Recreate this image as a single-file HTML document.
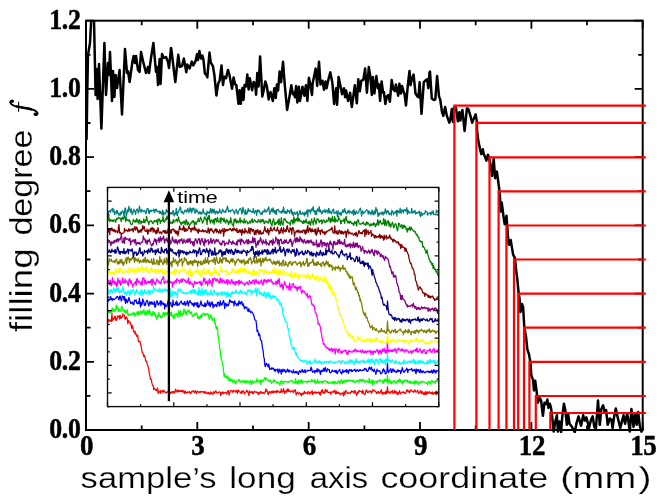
<!DOCTYPE html>
<html><head><meta charset="utf-8"><title>filling degree</title>
<style>
html,body{margin:0;padding:0;background:#fff;}
body{width:664px;height:500px;overflow:hidden;font-family:"Liberation Sans",sans-serif;}
svg{display:block;will-change:transform;}
text{fill:#000;}
.thin text,text.thin{stroke:#fff;stroke-width:0.25px;paint-order:fill stroke;}
</style></head><body>
<svg width="664" height="500" viewBox="0 0 664 500">
<rect width="664" height="500" fill="#fff"/>
<!-- inset -->
<g fill="none" stroke-width="1.25" stroke-linejoin="round">
<path d="M107.5,322.0 L108.0,322.1 L108.6,319.7 L109.1,319.8 L109.7,321.2 L110.2,320.7 L110.8,319.9 L111.3,321.6 L111.9,313.2 L112.4,320.7 L113.0,318.5 L113.5,319.2 L114.1,318.6 L114.6,316.9 L115.2,316.1 L115.7,320.4 L116.3,318.6 L116.8,320.2 L117.4,316.1 L117.9,316.2 L118.5,316.8 L119.0,315.9 L119.6,319.0 L120.1,315.4 L120.7,318.2 L121.2,318.4 L121.8,316.7 L122.3,317.0 L122.9,313.9 L123.4,315.1 L124.0,315.0 L124.5,315.6 L125.1,319.3 L125.6,317.7 L126.2,318.0 L126.7,316.9 L127.3,319.4 L127.8,323.8 L128.4,320.5 L128.9,321.9 L129.5,322.2 L130.0,321.9 L130.6,324.1 L131.1,324.4 L131.7,328.3 L132.2,325.4 L132.8,326.8 L133.3,330.3 L133.9,331.6 L134.5,333.0 L135.0,331.1 L135.6,334.4 L136.1,333.7 L136.7,336.4 L137.2,335.7 L137.8,335.3 L138.3,341.3 L138.9,341.1 L139.4,341.8 L140.0,341.3 L140.5,343.9 L141.1,345.8 L141.6,349.4 L142.2,352.3 L142.7,352.4 L143.3,354.5 L143.8,356.6 L144.4,355.3 L144.9,356.9 L145.5,359.9 L146.0,361.5 L146.6,361.1 L147.1,363.7 L147.7,365.4 L148.2,367.0 L148.8,369.4 L149.3,373.5 L149.9,375.6 L150.4,379.3 L151.0,379.0 L151.5,380.8 L152.1,383.9 L152.6,385.4 L153.2,385.6 L153.7,389.7 L154.3,388.2 L154.8,388.9 L155.4,389.0 L155.9,390.6 L156.5,390.6 L157.0,389.6 L157.6,388.0 L158.1,393.5 L158.7,391.2 L159.2,391.4 L159.8,392.1 L160.3,393.3 L160.9,390.5 L161.4,391.6 L162.0,391.2 L162.5,392.1 L163.1,390.0 L163.6,391.9 L164.2,391.0 L164.7,391.0 L165.3,392.7 L165.8,392.5 L166.4,392.8 L166.9,392.5 L167.5,391.7 L168.0,391.6 L168.6,391.3 L169.1,395.3 L169.7,392.9 L170.2,393.5 L170.8,391.9 L171.3,392.4 L171.9,393.1 L172.4,391.5 L173.0,391.5 L173.5,392.9 L174.1,391.5 L174.6,392.9 L175.2,391.3 L175.7,389.2 L176.3,391.2 L176.8,391.8 L177.4,391.9 L177.9,390.0 L178.5,391.9 L179.0,390.3 L179.6,391.4 L180.1,390.9 L180.7,391.4 L181.2,390.3 L181.8,391.6 L182.3,390.3 L182.9,392.2 L183.4,391.5 L184.0,390.7 L184.5,393.4 L185.1,391.5 L185.6,391.8 L186.2,393.4 L186.7,392.4 L187.3,392.4 L187.8,391.9 L188.4,392.3 L188.9,392.3 L189.5,391.4 L190.0,393.1 L190.6,393.7 L191.1,392.9 L191.7,391.3 L192.2,391.8 L192.8,390.8 L193.3,390.9 L193.9,391.9 L194.4,392.8 L195.0,391.8 L195.5,390.5 L196.1,392.6 L196.6,393.5 L197.2,391.4 L197.7,391.3 L198.3,391.7 L198.8,392.3 L199.4,392.5 L199.9,391.7 L200.5,392.3 L201.0,391.5 L201.6,391.3 L202.1,391.5 L202.7,392.2 L203.2,392.3 L203.8,391.7 L204.3,393.0 L204.9,391.5 L205.4,393.1 L206.0,392.1 L206.5,392.5 L207.1,393.6 L207.6,393.0 L208.2,393.6 L208.7,392.4 L209.3,393.9 L209.8,394.4 L210.4,392.9 L210.9,391.9 L211.5,392.3 L212.0,394.2 L212.6,394.1 L213.1,393.3 L213.7,391.6 L214.2,393.5 L214.8,392.5 L215.3,391.7 L215.9,390.7 L216.4,392.6 L217.0,392.9 L217.5,392.8 L218.1,393.0 L218.6,392.2 L219.2,391.8 L219.7,391.9 L220.3,392.8 L220.8,395.7 L221.4,392.4 L221.9,393.7 L222.5,392.5 L223.0,391.8 L223.6,393.6 L224.1,392.8 L224.7,392.8 L225.2,392.3 L225.8,392.9 L226.3,392.9 L226.9,394.2 L227.4,391.8 L228.0,390.9 L228.5,390.7 L229.1,395.2 L229.6,392.4 L230.2,392.0 L230.7,390.8 L231.3,390.6 L231.8,390.5 L232.4,391.5 L232.9,392.5 L233.5,390.5 L234.0,391.0 L234.6,390.8 L235.1,391.2 L235.7,392.0 L236.2,390.5 L236.8,390.3 L237.3,393.5 L237.9,391.9 L238.4,390.0 L239.0,391.1 L239.5,391.6 L240.1,392.2 L240.6,392.4 L241.2,393.7 L241.7,391.1 L242.3,392.7 L242.8,390.9 L243.4,390.8 L243.9,391.9 L244.5,394.0 L245.0,392.8 L245.6,392.3 L246.1,391.6 L246.7,390.5 L247.2,390.7 L247.8,392.3 L248.3,393.2 L248.9,395.7 L249.4,390.8 L250.0,392.5 L250.5,392.1 L251.1,392.9 L251.6,391.6 L252.2,391.7 L252.7,393.4 L253.3,393.8 L253.8,392.0 L254.4,391.2 L254.9,392.0 L255.5,392.1 L256.0,391.9 L256.6,392.7 L257.1,392.2 L257.7,392.1 L258.2,394.1 L258.8,394.3 L259.3,392.3 L259.9,393.4 L260.4,391.6 L261.0,391.7 L261.5,392.9 L262.1,392.7 L262.6,393.3 L263.2,392.3 L263.7,392.9 L264.3,393.6 L264.8,393.2 L265.4,391.0 L265.9,388.9 L266.5,391.4 L267.0,390.3 L267.6,392.6 L268.1,394.7 L268.7,393.2 L269.2,391.6 L269.8,392.7 L270.3,391.8 L270.9,393.4 L271.4,391.3 L272.0,392.0 L272.5,392.7 L273.1,390.8 L273.6,392.6 L274.2,391.4 L274.7,392.2 L275.3,391.9 L275.8,391.2 L276.4,392.7 L276.9,390.4 L277.5,391.8 L278.0,391.1 L278.6,391.6 L279.1,392.3 L279.7,392.4 L280.2,391.7 L280.8,392.4 L281.3,388.9 L281.9,392.1 L282.4,391.9 L283.0,391.6 L283.5,388.7 L284.1,391.5 L284.6,393.5 L285.2,390.9 L285.7,391.5 L286.3,392.2 L286.8,390.5 L287.4,389.0 L287.9,391.4 L288.5,389.1 L289.0,391.4 L289.6,390.7 L290.1,391.2 L290.7,392.1 L291.2,391.4 L291.8,391.0 L292.3,390.5 L292.9,390.9 L293.4,392.5 L294.0,391.8 L294.5,390.3 L295.1,389.7 L295.6,391.6 L296.2,394.8 L296.7,393.7 L297.3,392.4 L297.8,392.1 L298.4,393.9 L298.9,393.5 L299.5,392.8 L300.0,393.2 L300.6,394.6 L301.1,393.7 L301.7,395.7 L302.2,393.2 L302.8,393.6 L303.3,394.2 L303.9,392.6 L304.4,391.3 L305.0,393.5 L305.5,392.3 L306.1,393.2 L306.6,393.2 L307.2,392.9 L307.7,394.1 L308.3,391.5 L308.8,392.1 L309.4,393.1 L309.9,394.2 L310.5,392.9 L311.0,391.8 L311.6,392.8 L312.1,390.6 L312.7,394.3 L313.2,392.7 L313.8,393.3 L314.3,391.9 L314.9,392.2 L315.4,392.8 L316.0,391.8 L316.5,393.3 L317.1,392.5 L317.6,392.5 L318.2,392.3 L318.7,392.1 L319.3,394.1 L319.8,392.1 L320.4,395.1 L320.9,392.4 L321.5,390.4 L322.0,392.1 L322.6,389.7 L323.1,392.8 L323.7,392.5 L324.2,393.4 L324.8,392.0 L325.3,389.5 L325.9,391.9 L326.4,391.9 L327.0,389.9 L327.5,391.3 L328.1,392.8 L328.6,392.7 L329.2,392.4 L329.7,392.2 L330.3,392.1 L330.8,394.3 L331.4,391.9 L331.9,392.3 L332.5,392.2 L333.0,391.2 L333.6,392.1 L334.1,391.1 L334.7,390.2 L335.2,393.5 L335.8,393.9 L336.3,391.1 L336.9,393.5 L337.4,392.5 L338.0,393.1 L338.5,392.1 L339.1,393.6 L339.6,393.1 L340.2,394.9 L340.7,394.1 L341.3,393.8 L341.8,393.3 L342.4,392.8 L342.9,394.1 L343.5,395.8 L344.0,391.7 L344.6,394.5 L345.1,393.6 L345.7,390.3 L346.2,392.0 L346.8,392.2 L347.3,393.0 L347.9,393.6 L348.4,392.9 L349.0,392.8 L349.5,393.0 L350.1,393.5 L350.6,392.2 L351.2,392.3 L351.7,390.8 L352.3,391.7 L352.8,391.9 L353.4,391.2 L353.9,393.1 L354.5,392.1 L355.0,390.3 L355.6,393.2 L356.1,393.0 L356.7,395.7 L357.2,393.7 L357.8,391.8 L358.3,393.2 L358.9,390.8 L359.4,390.5 L360.0,391.5 L360.5,391.4 L361.1,391.4 L361.6,391.8 L362.2,393.5 L362.7,390.2 L363.3,392.0 L363.8,393.9 L364.4,394.2 L364.9,394.6 L365.5,393.0 L366.0,390.3 L366.6,390.0 L367.1,391.6 L367.7,392.7 L368.2,391.9 L368.8,392.2 L369.3,391.0 L369.9,391.6 L370.4,391.6 L371.0,391.1 L371.5,393.3 L372.1,392.0 L372.6,389.8 L373.2,390.5 L373.7,390.1 L374.3,390.6 L374.8,391.0 L375.4,391.5 L375.9,391.6 L376.5,393.5 L377.0,392.4 L377.6,392.9 L378.1,391.4 L378.7,392.0 L379.2,393.5 L379.8,392.5 L380.3,392.5 L380.9,390.7 L381.4,389.9 L382.0,393.8 L382.5,394.2 L383.1,392.4 L383.6,393.5 L384.2,392.2 L384.7,393.2 L385.3,394.1 L385.8,391.2 L386.4,393.6 L386.9,392.0 L387.5,386.7 L388.0,393.0 L388.6,391.8 L389.1,391.9 L389.7,392.3 L390.2,393.7 L390.8,391.6 L391.3,392.1 L391.9,391.5 L392.4,390.5 L393.0,393.7 L393.5,392.7 L394.1,391.9 L394.6,390.5 L395.2,393.3 L395.7,391.4 L396.3,391.7 L396.8,393.9 L397.4,394.3 L397.9,392.6 L398.5,394.1 L399.0,391.7 L399.6,390.7 L400.1,393.2 L400.7,393.8 L401.2,393.1 L401.8,392.1 L402.3,392.4 L402.9,392.3 L403.4,391.7 L404.0,392.8 L404.5,392.7 L405.1,393.7 L405.6,393.0 L406.2,391.7 L406.7,390.3 L407.3,389.8 L407.8,391.5 L408.4,391.8 L408.9,390.7 L409.5,392.8 L410.0,391.6 L410.6,389.9 L411.1,390.2 L411.7,390.9 L412.2,391.5 L412.8,391.4 L413.3,392.0 L413.9,392.3 L414.4,390.4 L415.0,389.9 L415.5,391.5 L416.1,392.2 L416.6,391.9 L417.2,391.9 L417.7,390.2 L418.3,392.3 L418.8,393.5 L419.4,392.9 L419.9,392.4 L420.5,390.5 L421.0,392.0 L421.6,393.8 L422.1,391.7 L422.7,392.2 L423.2,393.3 L423.8,394.9 L424.3,392.9 L424.9,394.4 L425.4,391.6 L426.0,394.4 L426.5,394.0 L427.1,391.7 L427.6,393.6 L428.2,392.4 L428.7,393.2 L429.3,391.6 L429.8,392.1 L430.4,393.2 L430.9,393.7 L431.5,392.4 L432.0,393.6 L432.6,391.9 L433.1,394.4 L433.7,393.5 L434.2,392.9 L434.8,392.5 L435.3,393.8 L435.9,391.2 L436.4,394.6 L437.0,391.4 L437.5,393.2 L438.1,393.7 L438.6,393.9" stroke="#ff0000"/>
<path d="M107.5,309.9 L108.0,311.9 L108.6,310.8 L109.1,313.1 L109.7,312.0 L110.2,310.6 L110.8,312.4 L111.3,314.1 L111.9,309.5 L112.4,308.0 L113.0,311.6 L113.5,309.6 L114.1,310.1 L114.6,311.1 L115.2,309.3 L115.7,310.6 L116.3,305.1 L116.8,306.0 L117.4,309.3 L117.9,307.4 L118.5,311.7 L119.0,309.1 L119.6,310.1 L120.1,310.9 L120.7,310.8 L121.2,308.4 L121.8,306.4 L122.3,307.9 L122.9,310.7 L123.4,310.6 L124.0,310.3 L124.5,312.4 L125.1,310.1 L125.6,311.4 L126.2,313.6 L126.7,312.2 L127.3,309.7 L127.8,314.1 L128.4,315.7 L128.9,314.2 L129.5,314.9 L130.0,314.8 L130.6,314.7 L131.1,313.9 L131.7,314.6 L132.2,313.9 L132.8,314.1 L133.3,312.3 L133.9,313.0 L134.5,316.0 L135.0,313.2 L135.6,314.7 L136.1,314.5 L136.7,313.3 L137.2,311.6 L137.8,314.2 L138.3,315.0 L138.9,311.2 L139.4,315.0 L140.0,312.4 L140.5,311.9 L141.1,310.9 L141.6,314.7 L142.2,311.0 L142.7,311.8 L143.3,312.5 L143.8,309.7 L144.4,314.4 L144.9,311.3 L145.5,312.1 L146.0,315.3 L146.6,314.0 L147.1,310.6 L147.7,311.2 L148.2,313.9 L148.8,311.6 L149.3,309.6 L149.9,313.3 L150.4,311.8 L151.0,315.5 L151.5,314.4 L152.1,315.8 L152.6,313.3 L153.2,311.3 L153.7,313.1 L154.3,315.1 L154.8,312.6 L155.4,314.8 L155.9,317.1 L156.5,318.5 L157.0,319.6 L157.6,315.0 L158.1,316.5 L158.7,312.6 L159.2,315.8 L159.8,315.3 L160.3,317.6 L160.9,315.6 L161.4,317.8 L162.0,317.0 L162.5,316.9 L163.1,312.5 L163.6,314.5 L164.2,312.7 L164.7,315.9 L165.3,312.8 L165.8,314.0 L166.4,314.7 L166.9,312.4 L167.5,312.6 L168.0,314.4 L168.6,316.4 L169.1,313.9 L169.7,313.0 L170.2,315.3 L170.8,312.9 L171.3,312.1 L171.9,316.4 L172.4,315.1 L173.0,315.9 L173.5,318.7 L174.1,318.6 L174.6,314.6 L175.2,314.7 L175.7,314.5 L176.3,313.4 L176.8,314.6 L177.4,315.8 L177.9,317.3 L178.5,312.5 L179.0,310.5 L179.6,314.3 L180.1,316.4 L180.7,310.8 L181.2,314.7 L181.8,313.9 L182.3,315.5 L182.9,312.9 L183.4,313.7 L184.0,308.9 L184.5,311.9 L185.1,311.2 L185.6,313.7 L186.2,312.3 L186.7,314.7 L187.3,310.7 L187.8,311.4 L188.4,311.8 L188.9,309.9 L189.5,311.4 L190.0,313.5 L190.6,313.6 L191.1,311.8 L191.7,312.8 L192.2,315.8 L192.8,315.3 L193.3,316.7 L193.9,315.8 L194.4,313.9 L195.0,313.7 L195.5,315.1 L196.1,313.6 L196.6,312.8 L197.2,314.5 L197.7,317.7 L198.3,318.6 L198.8,316.7 L199.4,318.5 L199.9,316.5 L200.5,317.9 L201.0,314.8 L201.6,317.5 L202.1,314.5 L202.7,314.6 L203.2,313.1 L203.8,314.2 L204.3,313.5 L204.9,315.2 L205.4,315.6 L206.0,314.3 L206.5,313.6 L207.1,313.7 L207.6,314.4 L208.2,314.2 L208.7,316.6 L209.3,319.3 L209.8,316.8 L210.4,317.0 L210.9,314.7 L211.5,318.7 L212.0,318.2 L212.6,320.5 L213.1,319.1 L213.7,318.8 L214.2,318.1 L214.8,323.4 L215.3,322.9 L215.9,327.0 L216.4,329.2 L217.0,326.7 L217.5,328.0 L218.1,335.8 L218.6,339.5 L219.2,343.8 L219.7,348.4 L220.3,350.4 L220.8,357.5 L221.4,358.9 L221.9,360.8 L222.5,363.9 L223.0,366.2 L223.6,370.9 L224.1,376.5 L224.7,374.0 L225.2,376.7 L225.8,377.2 L226.3,378.0 L226.9,375.8 L227.4,375.9 L228.0,379.2 L228.5,377.3 L229.1,381.2 L229.6,380.4 L230.2,378.7 L230.7,381.2 L231.3,379.7 L231.8,380.1 L232.4,379.8 L232.9,382.5 L233.5,382.3 L234.0,380.8 L234.6,380.2 L235.1,382.2 L235.7,383.9 L236.2,382.6 L236.8,381.1 L237.3,381.3 L237.9,380.7 L238.4,379.4 L239.0,379.6 L239.5,380.9 L240.1,382.5 L240.6,381.5 L241.2,380.9 L241.7,381.8 L242.3,382.0 L242.8,380.5 L243.4,381.6 L243.9,380.8 L244.5,382.5 L245.0,380.7 L245.6,381.7 L246.1,382.2 L246.7,380.6 L247.2,382.5 L247.8,381.9 L248.3,381.9 L248.9,382.9 L249.4,382.7 L250.0,380.9 L250.5,380.4 L251.1,384.9 L251.6,382.8 L252.2,381.0 L252.7,381.2 L253.3,383.5 L253.8,381.3 L254.4,381.6 L254.9,382.0 L255.5,382.0 L256.0,381.8 L256.6,378.9 L257.1,381.9 L257.7,380.6 L258.2,380.6 L258.8,381.2 L259.3,382.7 L259.9,380.8 L260.4,380.0 L261.0,384.4 L261.5,379.9 L262.1,380.7 L262.6,381.8 L263.2,381.0 L263.7,380.4 L264.3,377.9 L264.8,377.9 L265.4,380.2 L265.9,377.9 L266.5,378.5 L267.0,379.2 L267.6,380.3 L268.1,381.1 L268.7,380.7 L269.2,381.8 L269.8,380.5 L270.3,380.0 L270.9,381.2 L271.4,383.5 L272.0,382.0 L272.5,382.1 L273.1,382.1 L273.6,379.8 L274.2,381.6 L274.7,380.1 L275.3,381.2 L275.8,381.7 L276.4,382.8 L276.9,383.3 L277.5,382.1 L278.0,382.2 L278.6,382.1 L279.1,382.6 L279.7,385.2 L280.2,384.0 L280.8,381.3 L281.3,380.7 L281.9,381.2 L282.4,382.1 L283.0,384.1 L283.5,381.7 L284.1,381.8 L284.6,381.2 L285.2,381.7 L285.7,381.5 L286.3,381.6 L286.8,381.7 L287.4,382.2 L287.9,382.9 L288.5,381.4 L289.0,381.5 L289.6,381.7 L290.1,381.2 L290.7,380.9 L291.2,381.1 L291.8,380.7 L292.3,380.8 L292.9,382.2 L293.4,382.7 L294.0,382.3 L294.5,381.9 L295.1,383.5 L295.6,378.7 L296.2,382.9 L296.7,381.6 L297.3,382.9 L297.8,384.2 L298.4,380.3 L298.9,382.9 L299.5,380.7 L300.0,382.2 L300.6,382.8 L301.1,379.7 L301.7,380.0 L302.2,382.7 L302.8,382.9 L303.3,381.2 L303.9,381.2 L304.4,381.3 L305.0,381.6 L305.5,381.8 L306.1,381.9 L306.6,381.5 L307.2,382.9 L307.7,381.7 L308.3,381.2 L308.8,380.8 L309.4,381.9 L309.9,381.7 L310.5,381.4 L311.0,382.1 L311.6,379.7 L312.1,380.1 L312.7,381.4 L313.2,380.9 L313.8,380.6 L314.3,382.3 L314.9,379.6 L315.4,383.1 L316.0,381.9 L316.5,382.7 L317.1,382.6 L317.6,379.4 L318.2,382.7 L318.7,382.2 L319.3,381.7 L319.8,382.8 L320.4,381.3 L320.9,381.4 L321.5,382.1 L322.0,381.7 L322.6,383.1 L323.1,381.1 L323.7,381.7 L324.2,381.4 L324.8,381.2 L325.3,380.8 L325.9,381.0 L326.4,381.1 L327.0,382.6 L327.5,381.7 L328.1,383.1 L328.6,383.2 L329.2,382.1 L329.7,383.4 L330.3,382.8 L330.8,382.8 L331.4,382.2 L331.9,383.2 L332.5,383.3 L333.0,381.2 L333.6,382.8 L334.1,384.2 L334.7,381.7 L335.2,381.5 L335.8,382.5 L336.3,383.7 L336.9,383.5 L337.4,382.5 L338.0,380.9 L338.5,381.5 L339.1,381.4 L339.6,383.8 L340.2,382.9 L340.7,381.0 L341.3,379.9 L341.8,382.1 L342.4,383.5 L342.9,381.3 L343.5,380.4 L344.0,382.7 L344.6,382.1 L345.1,380.2 L345.7,381.3 L346.2,380.0 L346.8,381.7 L347.3,380.7 L347.9,381.4 L348.4,379.8 L349.0,380.0 L349.5,380.6 L350.1,380.3 L350.6,380.5 L351.2,381.0 L351.7,380.3 L352.3,380.4 L352.8,381.8 L353.4,380.1 L353.9,381.1 L354.5,382.1 L355.0,382.4 L355.6,382.2 L356.1,380.7 L356.7,381.7 L357.2,380.8 L357.8,381.3 L358.3,380.9 L358.9,382.6 L359.4,380.0 L360.0,379.3 L360.5,380.4 L361.1,379.7 L361.6,381.8 L362.2,380.2 L362.7,379.4 L363.3,379.3 L363.8,381.4 L364.4,382.2 L364.9,380.7 L365.5,381.9 L366.0,381.0 L366.6,381.5 L367.1,382.0 L367.7,380.7 L368.2,381.2 L368.8,382.8 L369.3,378.4 L369.9,381.7 L370.4,382.4 L371.0,382.0 L371.5,382.4 L372.1,379.6 L372.6,385.2 L373.2,380.7 L373.7,382.8 L374.3,383.0 L374.8,382.0 L375.4,381.5 L375.9,381.1 L376.5,381.6 L377.0,383.4 L377.6,380.9 L378.1,381.1 L378.7,381.6 L379.2,381.1 L379.8,379.4 L380.3,381.0 L380.9,381.6 L381.4,381.6 L382.0,381.3 L382.5,380.4 L383.1,383.4 L383.6,383.2 L384.2,379.6 L384.7,381.6 L385.3,379.0 L385.8,379.7 L386.4,381.3 L386.9,381.9 L387.5,375.1 L388.0,383.7 L388.6,379.5 L389.1,379.6 L389.7,381.4 L390.2,382.8 L390.8,380.9 L391.3,383.8 L391.9,381.9 L392.4,382.4 L393.0,382.6 L393.5,381.5 L394.1,380.4 L394.6,381.1 L395.2,382.9 L395.7,383.1 L396.3,381.9 L396.8,383.0 L397.4,380.9 L397.9,380.2 L398.5,381.8 L399.0,381.6 L399.6,379.0 L400.1,381.5 L400.7,379.9 L401.2,382.3 L401.8,381.9 L402.3,383.8 L402.9,380.8 L403.4,381.2 L404.0,382.3 L404.5,380.4 L405.1,380.5 L405.6,380.7 L406.2,379.8 L406.7,381.1 L407.3,380.2 L407.8,382.6 L408.4,381.4 L408.9,382.0 L409.5,381.1 L410.0,383.4 L410.6,381.3 L411.1,383.0 L411.7,381.9 L412.2,382.9 L412.8,382.0 L413.3,383.3 L413.9,384.0 L414.4,380.9 L415.0,383.8 L415.5,382.7 L416.1,380.8 L416.6,382.9 L417.2,382.9 L417.7,381.4 L418.3,384.0 L418.8,384.0 L419.4,382.7 L419.9,382.3 L420.5,381.4 L421.0,383.1 L421.6,381.8 L422.1,381.5 L422.7,381.9 L423.2,381.3 L423.8,382.0 L424.3,382.2 L424.9,382.2 L425.4,382.6 L426.0,383.2 L426.5,382.7 L427.1,383.0 L427.6,384.9 L428.2,382.3 L428.7,381.3 L429.3,382.2 L429.8,382.9 L430.4,384.0 L430.9,381.8 L431.5,380.6 L432.0,381.2 L432.6,380.8 L433.1,382.6 L433.7,382.2 L434.2,381.7 L434.8,381.8 L435.3,383.3 L435.9,380.3 L436.4,381.3 L437.0,380.9 L437.5,381.8 L438.1,381.0 L438.6,379.6" stroke="#00ff00"/>
<path d="M107.5,300.0 L108.0,301.8 L108.6,299.2 L109.1,299.6 L109.7,300.1 L110.2,298.8 L110.8,296.6 L111.3,299.7 L111.9,298.8 L112.4,300.4 L113.0,298.6 L113.5,299.5 L114.1,299.5 L114.6,299.2 L115.2,298.6 L115.7,298.3 L116.3,297.6 L116.8,296.7 L117.4,296.5 L117.9,296.9 L118.5,299.0 L119.0,299.9 L119.6,296.6 L120.1,296.0 L120.7,298.1 L121.2,301.0 L121.8,299.6 L122.3,295.8 L122.9,296.6 L123.4,296.5 L124.0,300.0 L124.5,296.6 L125.1,300.9 L125.6,303.3 L126.2,299.1 L126.7,299.8 L127.3,302.7 L127.8,301.6 L128.4,299.9 L128.9,297.3 L129.5,299.7 L130.0,301.1 L130.6,303.7 L131.1,303.1 L131.7,303.2 L132.2,301.8 L132.8,303.8 L133.3,304.8 L133.9,304.4 L134.5,300.1 L135.0,301.0 L135.6,300.5 L136.1,299.8 L136.7,303.1 L137.2,303.3 L137.8,303.8 L138.3,302.0 L138.9,303.4 L139.4,298.2 L140.0,303.2 L140.5,307.1 L141.1,302.5 L141.6,305.1 L142.2,304.0 L142.7,299.0 L143.3,300.4 L143.8,301.9 L144.4,305.5 L144.9,304.0 L145.5,305.2 L146.0,302.0 L146.6,301.1 L147.1,300.2 L147.7,301.8 L148.2,304.0 L148.8,306.0 L149.3,303.8 L149.9,301.6 L150.4,302.4 L151.0,304.5 L151.5,302.0 L152.1,302.2 L152.6,304.2 L153.2,303.8 L153.7,304.4 L154.3,301.5 L154.8,306.9 L155.4,307.1 L155.9,304.6 L156.5,302.1 L157.0,300.7 L157.6,302.2 L158.1,304.9 L158.7,304.9 L159.2,303.2 L159.8,303.4 L160.3,300.9 L160.9,305.6 L161.4,301.0 L162.0,302.5 L162.5,304.2 L163.1,302.9 L163.6,304.7 L164.2,303.7 L164.7,308.9 L165.3,304.0 L165.8,306.0 L166.4,305.7 L166.9,306.6 L167.5,303.2 L168.0,300.8 L168.6,304.6 L169.1,304.8 L169.7,304.0 L170.2,302.4 L170.8,303.0 L171.3,305.7 L171.9,306.6 L172.4,306.8 L173.0,300.0 L173.5,304.3 L174.1,305.3 L174.6,304.8 L175.2,304.0 L175.7,302.1 L176.3,304.7 L176.8,301.0 L177.4,305.6 L177.9,303.4 L178.5,304.8 L179.0,304.9 L179.6,304.2 L180.1,302.3 L180.7,302.1 L181.2,301.0 L181.8,302.7 L182.3,304.1 L182.9,303.7 L183.4,303.4 L184.0,304.9 L184.5,301.7 L185.1,302.3 L185.6,305.4 L186.2,304.0 L186.7,303.7 L187.3,300.8 L187.8,302.2 L188.4,306.0 L188.9,302.8 L189.5,301.7 L190.0,300.4 L190.6,302.6 L191.1,302.5 L191.7,303.4 L192.2,305.2 L192.8,303.3 L193.3,303.5 L193.9,306.5 L194.4,305.2 L195.0,302.5 L195.5,303.3 L196.1,304.8 L196.6,303.1 L197.2,306.6 L197.7,302.4 L198.3,307.4 L198.8,305.8 L199.4,306.7 L199.9,305.1 L200.5,302.9 L201.0,300.8 L201.6,304.6 L202.1,305.7 L202.7,305.0 L203.2,305.1 L203.8,306.4 L204.3,306.5 L204.9,302.9 L205.4,306.6 L206.0,304.2 L206.5,305.5 L207.1,303.4 L207.6,300.7 L208.2,303.0 L208.7,304.4 L209.3,305.6 L209.8,302.1 L210.4,306.6 L210.9,303.8 L211.5,304.2 L212.0,301.6 L212.6,303.7 L213.1,307.8 L213.7,304.7 L214.2,306.3 L214.8,305.1 L215.3,304.9 L215.9,304.6 L216.4,306.7 L217.0,306.0 L217.5,302.3 L218.1,302.6 L218.6,302.4 L219.2,306.2 L219.7,304.4 L220.3,300.9 L220.8,305.2 L221.4,303.5 L221.9,305.1 L222.5,303.3 L223.0,301.6 L223.6,300.5 L224.1,303.1 L224.7,308.4 L225.2,303.9 L225.8,303.3 L226.3,304.4 L226.9,306.4 L227.4,304.1 L228.0,305.1 L228.5,305.5 L229.1,303.1 L229.6,299.8 L230.2,301.9 L230.7,300.6 L231.3,302.3 L231.8,302.1 L232.4,301.6 L232.9,302.6 L233.5,301.9 L234.0,306.0 L234.6,300.9 L235.1,302.4 L235.7,304.0 L236.2,303.8 L236.8,305.8 L237.3,304.5 L237.9,303.2 L238.4,305.4 L239.0,300.8 L239.5,303.6 L240.1,302.1 L240.6,304.0 L241.2,302.9 L241.7,301.5 L242.3,304.4 L242.8,305.6 L243.4,303.8 L243.9,306.5 L244.5,308.9 L245.0,307.3 L245.6,306.9 L246.1,307.9 L246.7,307.1 L247.2,309.2 L247.8,310.9 L248.3,311.6 L248.9,308.5 L249.4,311.0 L250.0,310.7 L250.5,312.7 L251.1,311.8 L251.6,311.8 L252.2,312.1 L252.7,313.7 L253.3,314.0 L253.8,315.2 L254.4,318.3 L254.9,319.9 L255.5,320.2 L256.0,320.5 L256.6,325.9 L257.1,331.4 L257.7,330.0 L258.2,332.6 L258.8,335.7 L259.3,333.8 L259.9,335.8 L260.4,339.7 L261.0,340.2 L261.5,340.6 L262.1,344.9 L262.6,348.8 L263.2,351.2 L263.7,356.9 L264.3,358.6 L264.8,365.3 L265.4,366.7 L265.9,364.3 L266.5,363.3 L267.0,364.2 L267.6,365.8 L268.1,366.9 L268.7,364.2 L269.2,366.3 L269.8,369.5 L270.3,368.9 L270.9,369.2 L271.4,367.8 L272.0,369.2 L272.5,368.2 L273.1,368.1 L273.6,368.4 L274.2,370.6 L274.7,369.3 L275.3,371.5 L275.8,369.7 L276.4,369.7 L276.9,370.1 L277.5,369.1 L278.0,372.1 L278.6,372.9 L279.1,369.0 L279.7,370.3 L280.2,371.4 L280.8,369.8 L281.3,374.2 L281.9,369.9 L282.4,371.8 L283.0,369.2 L283.5,370.7 L284.1,371.4 L284.6,369.7 L285.2,370.6 L285.7,372.6 L286.3,371.1 L286.8,371.5 L287.4,369.2 L287.9,369.8 L288.5,371.9 L289.0,370.0 L289.6,371.9 L290.1,370.9 L290.7,371.0 L291.2,371.1 L291.8,372.3 L292.3,372.9 L292.9,372.5 L293.4,369.8 L294.0,372.3 L294.5,372.9 L295.1,372.2 L295.6,371.5 L296.2,372.9 L296.7,371.3 L297.3,372.7 L297.8,373.0 L298.4,374.4 L298.9,371.7 L299.5,370.9 L300.0,370.6 L300.6,372.5 L301.1,371.8 L301.7,371.3 L302.2,369.3 L302.8,371.7 L303.3,372.3 L303.9,370.6 L304.4,371.9 L305.0,369.7 L305.5,372.6 L306.1,371.6 L306.6,371.1 L307.2,370.3 L307.7,371.0 L308.3,370.3 L308.8,370.3 L309.4,370.5 L309.9,370.3 L310.5,370.7 L311.0,367.2 L311.6,368.2 L312.1,371.0 L312.7,372.3 L313.2,371.8 L313.8,370.8 L314.3,370.7 L314.9,373.0 L315.4,370.7 L316.0,370.9 L316.5,371.5 L317.1,368.7 L317.6,371.9 L318.2,371.3 L318.7,369.3 L319.3,370.6 L319.8,371.5 L320.4,374.4 L320.9,370.6 L321.5,371.9 L322.0,370.3 L322.6,371.3 L323.1,370.1 L323.7,368.4 L324.2,371.3 L324.8,369.6 L325.3,367.4 L325.9,370.7 L326.4,371.8 L327.0,371.2 L327.5,368.6 L328.1,369.4 L328.6,369.9 L329.2,369.6 L329.7,372.0 L330.3,372.8 L330.8,372.6 L331.4,372.1 L331.9,370.5 L332.5,370.1 L333.0,371.1 L333.6,371.7 L334.1,371.7 L334.7,370.4 L335.2,370.5 L335.8,372.5 L336.3,370.4 L336.9,373.2 L337.4,373.7 L338.0,371.4 L338.5,370.8 L339.1,370.6 L339.6,369.3 L340.2,371.4 L340.7,372.8 L341.3,372.7 L341.8,373.9 L342.4,371.2 L342.9,369.8 L343.5,372.3 L344.0,372.0 L344.6,371.6 L345.1,370.3 L345.7,370.4 L346.2,372.3 L346.8,369.3 L347.3,371.9 L347.9,370.9 L348.4,373.5 L349.0,370.2 L349.5,369.6 L350.1,370.6 L350.6,370.7 L351.2,369.5 L351.7,371.5 L352.3,371.4 L352.8,370.3 L353.4,370.5 L353.9,370.1 L354.5,369.9 L355.0,369.2 L355.6,371.5 L356.1,371.5 L356.7,370.2 L357.2,369.7 L357.8,370.4 L358.3,371.3 L358.9,371.3 L359.4,369.7 L360.0,370.3 L360.5,369.6 L361.1,370.6 L361.6,370.7 L362.2,370.7 L362.7,370.2 L363.3,369.8 L363.8,370.3 L364.4,368.5 L364.9,369.7 L365.5,368.6 L366.0,368.7 L366.6,370.6 L367.1,371.4 L367.7,370.9 L368.2,370.6 L368.8,368.4 L369.3,367.2 L369.9,367.7 L370.4,369.3 L371.0,368.4 L371.5,367.2 L372.1,370.7 L372.6,369.7 L373.2,371.3 L373.7,370.8 L374.3,369.2 L374.8,371.3 L375.4,371.7 L375.9,374.4 L376.5,371.1 L377.0,369.2 L377.6,371.1 L378.1,370.8 L378.7,370.6 L379.2,371.3 L379.8,370.8 L380.3,372.8 L380.9,374.0 L381.4,373.0 L382.0,373.0 L382.5,371.3 L383.1,369.0 L383.6,368.9 L384.2,371.7 L384.7,370.3 L385.3,373.8 L385.8,373.7 L386.4,373.4 L386.9,371.8 L387.5,363.3 L388.0,371.2 L388.6,372.5 L389.1,371.1 L389.7,370.1 L390.2,370.0 L390.8,368.6 L391.3,372.4 L391.9,372.3 L392.4,369.6 L393.0,368.8 L393.5,370.8 L394.1,371.3 L394.6,370.0 L395.2,371.9 L395.7,371.6 L396.3,372.4 L396.8,371.2 L397.4,371.6 L397.9,369.6 L398.5,371.5 L399.0,370.9 L399.6,370.6 L400.1,370.4 L400.7,373.6 L401.2,372.3 L401.8,369.8 L402.3,367.6 L402.9,370.2 L403.4,371.3 L404.0,372.6 L404.5,371.4 L405.1,370.5 L405.6,370.7 L406.2,369.6 L406.7,368.2 L407.3,369.4 L407.8,372.6 L408.4,369.7 L408.9,369.6 L409.5,369.6 L410.0,369.7 L410.6,369.3 L411.1,369.5 L411.7,368.5 L412.2,371.1 L412.8,371.0 L413.3,369.9 L413.9,370.5 L414.4,370.6 L415.0,369.2 L415.5,372.9 L416.1,373.6 L416.6,369.1 L417.2,370.2 L417.7,371.1 L418.3,369.6 L418.8,370.7 L419.4,372.6 L419.9,370.1 L420.5,369.4 L421.0,372.7 L421.6,370.9 L422.1,371.9 L422.7,372.5 L423.2,370.9 L423.8,371.6 L424.3,372.1 L424.9,372.8 L425.4,372.2 L426.0,371.6 L426.5,371.9 L427.1,371.1 L427.6,371.5 L428.2,372.2 L428.7,371.3 L429.3,372.4 L429.8,371.4 L430.4,372.1 L430.9,372.3 L431.5,370.1 L432.0,372.4 L432.6,373.1 L433.1,370.7 L433.7,369.6 L434.2,372.4 L434.8,370.7 L435.3,371.0 L435.9,373.1 L436.4,370.4 L437.0,370.5 L437.5,370.9 L438.1,371.3 L438.6,370.3" stroke="#0000ff"/>
<path d="M107.5,290.4 L108.0,290.1 L108.6,289.8 L109.1,294.4 L109.7,291.1 L110.2,292.3 L110.8,290.3 L111.3,289.4 L111.9,290.9 L112.4,292.5 L113.0,292.7 L113.5,288.0 L114.1,290.8 L114.6,289.2 L115.2,292.1 L115.7,291.9 L116.3,287.8 L116.8,290.5 L117.4,288.7 L117.9,290.4 L118.5,287.5 L119.0,292.2 L119.6,293.0 L120.1,291.0 L120.7,291.6 L121.2,290.9 L121.8,292.2 L122.3,289.1 L122.9,286.7 L123.4,290.6 L124.0,290.7 L124.5,293.9 L125.1,292.0 L125.6,293.6 L126.2,292.8 L126.7,295.2 L127.3,293.2 L127.8,291.1 L128.4,290.9 L128.9,292.7 L129.5,295.3 L130.0,294.1 L130.6,290.4 L131.1,294.0 L131.7,292.8 L132.2,290.3 L132.8,289.9 L133.3,289.5 L133.9,291.5 L134.5,295.1 L135.0,292.2 L135.6,292.6 L136.1,291.9 L136.7,289.3 L137.2,292.2 L137.8,291.2 L138.3,292.6 L138.9,292.8 L139.4,294.5 L140.0,293.0 L140.5,294.5 L141.1,289.6 L141.6,290.5 L142.2,295.4 L142.7,291.0 L143.3,293.9 L143.8,292.6 L144.4,291.6 L144.9,289.5 L145.5,292.9 L146.0,294.2 L146.6,293.3 L147.1,292.4 L147.7,292.6 L148.2,290.1 L148.8,293.3 L149.3,294.4 L149.9,294.6 L150.4,290.3 L151.0,291.9 L151.5,292.0 L152.1,291.9 L152.6,292.5 L153.2,290.1 L153.7,286.7 L154.3,290.1 L154.8,288.9 L155.4,290.6 L155.9,290.7 L156.5,290.3 L157.0,290.6 L157.6,289.9 L158.1,290.4 L158.7,291.8 L159.2,291.3 L159.8,288.1 L160.3,290.5 L160.9,292.0 L161.4,289.9 L162.0,291.5 L162.5,291.8 L163.1,289.3 L163.6,288.8 L164.2,290.8 L164.7,290.7 L165.3,290.0 L165.8,288.9 L166.4,290.6 L166.9,289.7 L167.5,291.0 L168.0,291.4 L168.6,292.0 L169.1,293.7 L169.7,288.5 L170.2,289.4 L170.8,297.6 L171.3,291.8 L171.9,292.2 L172.4,296.1 L173.0,294.8 L173.5,291.3 L174.1,292.1 L174.6,292.3 L175.2,294.8 L175.7,292.0 L176.3,293.2 L176.8,294.1 L177.4,297.7 L177.9,290.5 L178.5,289.1 L179.0,290.9 L179.6,289.7 L180.1,288.9 L180.7,290.9 L181.2,291.8 L181.8,292.8 L182.3,292.6 L182.9,292.2 L183.4,293.3 L184.0,292.5 L184.5,293.6 L185.1,292.9 L185.6,293.9 L186.2,293.9 L186.7,292.8 L187.3,293.4 L187.8,292.4 L188.4,293.2 L188.9,293.0 L189.5,292.3 L190.0,290.8 L190.6,290.7 L191.1,294.0 L191.7,292.6 L192.2,289.6 L192.8,292.1 L193.3,292.0 L193.9,289.1 L194.4,293.4 L195.0,289.8 L195.5,292.9 L196.1,291.3 L196.6,293.2 L197.2,294.7 L197.7,292.0 L198.3,294.9 L198.8,287.6 L199.4,291.5 L199.9,293.8 L200.5,295.3 L201.0,290.0 L201.6,292.6 L202.1,288.7 L202.7,294.5 L203.2,294.7 L203.8,291.3 L204.3,294.0 L204.9,290.3 L205.4,291.9 L206.0,289.4 L206.5,294.5 L207.1,294.0 L207.6,293.6 L208.2,294.3 L208.7,293.1 L209.3,293.7 L209.8,294.6 L210.4,292.9 L210.9,289.9 L211.5,295.0 L212.0,293.4 L212.6,295.2 L213.1,292.4 L213.7,290.5 L214.2,290.9 L214.8,292.8 L215.3,292.9 L215.9,294.3 L216.4,294.3 L217.0,292.6 L217.5,295.9 L218.1,292.8 L218.6,294.8 L219.2,293.3 L219.7,292.5 L220.3,293.5 L220.8,293.1 L221.4,295.5 L221.9,291.4 L222.5,294.6 L223.0,294.0 L223.6,292.7 L224.1,291.9 L224.7,294.3 L225.2,294.7 L225.8,292.8 L226.3,292.1 L226.9,297.2 L227.4,294.7 L228.0,292.2 L228.5,295.8 L229.1,294.0 L229.6,295.4 L230.2,293.8 L230.7,296.6 L231.3,293.8 L231.8,292.1 L232.4,291.7 L232.9,293.9 L233.5,293.4 L234.0,292.4 L234.6,292.7 L235.1,293.0 L235.7,289.9 L236.2,292.8 L236.8,291.4 L237.3,292.4 L237.9,292.8 L238.4,292.8 L239.0,294.4 L239.5,291.7 L240.1,292.2 L240.6,290.1 L241.2,292.6 L241.7,291.7 L242.3,292.4 L242.8,293.5 L243.4,293.7 L243.9,293.2 L244.5,292.4 L245.0,291.7 L245.6,293.0 L246.1,294.9 L246.7,294.6 L247.2,292.1 L247.8,289.9 L248.3,290.1 L248.9,291.7 L249.4,289.8 L250.0,289.7 L250.5,290.1 L251.1,294.3 L251.6,291.1 L252.2,292.6 L252.7,291.2 L253.3,292.2 L253.8,291.0 L254.4,290.7 L254.9,292.0 L255.5,288.2 L256.0,289.3 L256.6,295.8 L257.1,292.8 L257.7,288.0 L258.2,291.4 L258.8,291.3 L259.3,291.5 L259.9,294.4 L260.4,292.9 L261.0,292.2 L261.5,294.6 L262.1,295.2 L262.6,294.0 L263.2,296.2 L263.7,294.3 L264.3,291.7 L264.8,293.0 L265.4,297.6 L265.9,298.1 L266.5,293.0 L267.0,294.1 L267.6,295.1 L268.1,296.2 L268.7,292.3 L269.2,296.8 L269.8,296.8 L270.3,295.1 L270.9,299.1 L271.4,298.5 L272.0,296.0 L272.5,297.7 L273.1,295.1 L273.6,297.9 L274.2,296.5 L274.7,296.2 L275.3,297.0 L275.8,296.8 L276.4,300.1 L276.9,299.5 L277.5,299.1 L278.0,299.8 L278.6,300.8 L279.1,302.6 L279.7,304.7 L280.2,305.0 L280.8,302.6 L281.3,304.0 L281.9,307.3 L282.4,308.4 L283.0,315.2 L283.5,314.5 L284.1,317.8 L284.6,318.6 L285.2,321.4 L285.7,321.6 L286.3,322.1 L286.8,322.2 L287.4,325.9 L287.9,328.7 L288.5,328.8 L289.0,333.4 L289.6,337.4 L290.1,338.2 L290.7,340.8 L291.2,344.8 L291.8,346.3 L292.3,347.7 L292.9,349.3 L293.4,347.3 L294.0,349.1 L294.5,347.8 L295.1,351.2 L295.6,353.6 L296.2,355.3 L296.7,352.9 L297.3,356.9 L297.8,356.9 L298.4,357.6 L298.9,358.4 L299.5,359.9 L300.0,359.8 L300.6,360.4 L301.1,360.4 L301.7,361.2 L302.2,360.6 L302.8,360.3 L303.3,362.1 L303.9,361.8 L304.4,361.6 L305.0,360.3 L305.5,360.3 L306.1,361.6 L306.6,361.0 L307.2,364.6 L307.7,361.9 L308.3,362.0 L308.8,361.4 L309.4,363.0 L309.9,360.7 L310.5,363.0 L311.0,364.3 L311.6,362.8 L312.1,363.1 L312.7,363.1 L313.2,363.2 L313.8,362.0 L314.3,361.8 L314.9,359.0 L315.4,361.7 L316.0,362.6 L316.5,363.5 L317.1,360.9 L317.6,360.8 L318.2,362.0 L318.7,361.8 L319.3,362.9 L319.8,360.6 L320.4,362.7 L320.9,361.8 L321.5,364.1 L322.0,363.9 L322.6,362.2 L323.1,362.5 L323.7,361.9 L324.2,362.7 L324.8,361.4 L325.3,362.2 L325.9,362.4 L326.4,361.8 L327.0,361.3 L327.5,362.1 L328.1,361.5 L328.6,363.1 L329.2,361.1 L329.7,362.6 L330.3,361.4 L330.8,361.2 L331.4,361.5 L331.9,361.8 L332.5,362.4 L333.0,362.5 L333.6,363.3 L334.1,362.4 L334.7,362.5 L335.2,362.1 L335.8,362.4 L336.3,361.9 L336.9,361.9 L337.4,361.9 L338.0,362.0 L338.5,361.1 L339.1,360.7 L339.6,362.1 L340.2,362.4 L340.7,361.8 L341.3,363.8 L341.8,360.5 L342.4,361.0 L342.9,361.2 L343.5,361.8 L344.0,361.3 L344.6,363.5 L345.1,363.5 L345.7,362.1 L346.2,363.2 L346.8,362.7 L347.3,361.2 L347.9,361.4 L348.4,362.4 L349.0,363.8 L349.5,360.9 L350.1,359.7 L350.6,360.0 L351.2,362.8 L351.7,360.2 L352.3,360.8 L352.8,362.5 L353.4,362.3 L353.9,364.4 L354.5,363.7 L355.0,360.9 L355.6,363.0 L356.1,358.8 L356.7,362.0 L357.2,361.3 L357.8,362.4 L358.3,361.7 L358.9,362.6 L359.4,361.3 L360.0,362.6 L360.5,361.9 L361.1,360.8 L361.6,360.6 L362.2,360.8 L362.7,361.7 L363.3,362.6 L363.8,359.9 L364.4,361.8 L364.9,363.0 L365.5,362.3 L366.0,361.1 L366.6,361.7 L367.1,360.9 L367.7,362.5 L368.2,358.9 L368.8,362.2 L369.3,360.7 L369.9,360.4 L370.4,363.3 L371.0,359.6 L371.5,359.8 L372.1,358.9 L372.6,362.0 L373.2,360.5 L373.7,361.8 L374.3,364.6 L374.8,363.3 L375.4,359.7 L375.9,361.7 L376.5,359.1 L377.0,360.6 L377.6,361.5 L378.1,363.2 L378.7,364.2 L379.2,359.3 L379.8,360.5 L380.3,358.7 L380.9,360.2 L381.4,363.0 L382.0,359.9 L382.5,361.3 L383.1,363.0 L383.6,361.7 L384.2,362.8 L384.7,360.9 L385.3,359.7 L385.8,365.1 L386.4,359.4 L386.9,361.2 L387.5,352.9 L388.0,361.0 L388.6,360.0 L389.1,359.8 L389.7,361.2 L390.2,362.4 L390.8,360.7 L391.3,361.6 L391.9,361.2 L392.4,359.7 L393.0,360.8 L393.5,361.6 L394.1,362.3 L394.6,363.5 L395.2,361.8 L395.7,360.3 L396.3,362.3 L396.8,362.1 L397.4,362.7 L397.9,362.7 L398.5,363.3 L399.0,363.7 L399.6,361.7 L400.1,364.2 L400.7,363.5 L401.2,363.8 L401.8,363.3 L402.3,363.5 L402.9,362.2 L403.4,363.9 L404.0,359.9 L404.5,363.4 L405.1,361.9 L405.6,362.6 L406.2,362.7 L406.7,362.8 L407.3,361.5 L407.8,362.8 L408.4,361.8 L408.9,361.0 L409.5,361.8 L410.0,361.9 L410.6,361.0 L411.1,363.1 L411.7,361.2 L412.2,362.2 L412.8,361.7 L413.3,359.1 L413.9,362.8 L414.4,360.4 L415.0,360.2 L415.5,364.1 L416.1,362.4 L416.6,362.5 L417.2,363.1 L417.7,362.3 L418.3,360.4 L418.8,363.7 L419.4,363.7 L419.9,361.5 L420.5,360.7 L421.0,362.9 L421.6,361.3 L422.1,362.7 L422.7,361.1 L423.2,361.6 L423.8,363.6 L424.3,363.5 L424.9,363.9 L425.4,362.7 L426.0,362.6 L426.5,362.1 L427.1,364.0 L427.6,360.4 L428.2,363.6 L428.7,363.2 L429.3,361.7 L429.8,359.3 L430.4,362.6 L430.9,360.3 L431.5,361.8 L432.0,361.9 L432.6,361.3 L433.1,360.1 L433.7,362.3 L434.2,363.4 L434.8,360.1 L435.3,364.3 L435.9,362.4 L436.4,363.1 L437.0,362.2 L437.5,361.6 L438.1,360.2 L438.6,363.7" stroke="#00ffff"/>
<path d="M107.5,282.7 L108.0,280.1 L108.6,280.8 L109.1,281.4 L109.7,284.9 L110.2,280.0 L110.8,283.2 L111.3,285.8 L111.9,284.3 L112.4,277.6 L113.0,282.9 L113.5,281.2 L114.1,282.5 L114.6,281.1 L115.2,284.9 L115.7,282.1 L116.3,282.3 L116.8,286.4 L117.4,285.4 L117.9,278.0 L118.5,282.0 L119.0,280.9 L119.6,283.3 L120.1,280.7 L120.7,285.4 L121.2,284.4 L121.8,282.4 L122.3,279.6 L122.9,277.9 L123.4,283.1 L124.0,283.0 L124.5,282.7 L125.1,279.2 L125.6,282.4 L126.2,281.3 L126.7,281.0 L127.3,282.2 L127.8,284.3 L128.4,285.8 L128.9,280.3 L129.5,278.8 L130.0,280.1 L130.6,282.8 L131.1,280.7 L131.7,283.9 L132.2,284.1 L132.8,287.1 L133.3,284.2 L133.9,283.8 L134.5,283.8 L135.0,282.1 L135.6,281.3 L136.1,285.7 L136.7,279.1 L137.2,278.5 L137.8,281.6 L138.3,282.4 L138.9,281.0 L139.4,282.1 L140.0,282.1 L140.5,283.4 L141.1,285.0 L141.6,281.7 L142.2,285.2 L142.7,278.3 L143.3,278.0 L143.8,277.7 L144.4,280.4 L144.9,284.2 L145.5,280.4 L146.0,281.9 L146.6,283.9 L147.1,283.2 L147.7,281.8 L148.2,281.3 L148.8,282.8 L149.3,281.1 L149.9,282.4 L150.4,282.8 L151.0,280.4 L151.5,279.5 L152.1,285.6 L152.6,279.1 L153.2,280.1 L153.7,282.3 L154.3,283.1 L154.8,282.2 L155.4,285.0 L155.9,282.2 L156.5,280.9 L157.0,278.8 L157.6,280.9 L158.1,280.9 L158.7,281.1 L159.2,283.1 L159.8,282.0 L160.3,282.5 L160.9,283.9 L161.4,280.7 L162.0,279.3 L162.5,279.1 L163.1,276.6 L163.6,276.9 L164.2,283.1 L164.7,283.6 L165.3,281.9 L165.8,281.7 L166.4,281.3 L166.9,282.0 L167.5,280.9 L168.0,283.0 L168.6,280.3 L169.1,279.2 L169.7,282.8 L170.2,282.5 L170.8,281.5 L171.3,282.4 L171.9,282.8 L172.4,287.1 L173.0,281.7 L173.5,282.7 L174.1,283.7 L174.6,282.4 L175.2,280.3 L175.7,282.1 L176.3,282.7 L176.8,278.6 L177.4,280.2 L177.9,279.8 L178.5,280.2 L179.0,280.5 L179.6,283.2 L180.1,280.6 L180.7,281.0 L181.2,278.8 L181.8,282.6 L182.3,281.5 L182.9,278.8 L183.4,279.3 L184.0,279.7 L184.5,280.1 L185.1,281.3 L185.6,280.1 L186.2,282.8 L186.7,282.1 L187.3,282.5 L187.8,281.0 L188.4,278.0 L188.9,283.5 L189.5,284.2 L190.0,281.6 L190.6,281.4 L191.1,284.1 L191.7,283.9 L192.2,283.5 L192.8,284.4 L193.3,287.3 L193.9,284.8 L194.4,281.4 L195.0,282.6 L195.5,283.7 L196.1,282.1 L196.6,282.3 L197.2,283.7 L197.7,282.5 L198.3,282.5 L198.8,282.7 L199.4,281.6 L199.9,282.7 L200.5,284.4 L201.0,281.1 L201.6,285.8 L202.1,283.7 L202.7,283.7 L203.2,281.5 L203.8,277.9 L204.3,280.9 L204.9,279.0 L205.4,284.0 L206.0,283.3 L206.5,281.9 L207.1,280.8 L207.6,285.8 L208.2,282.6 L208.7,282.0 L209.3,279.0 L209.8,284.0 L210.4,280.6 L210.9,282.0 L211.5,282.2 L212.0,286.4 L212.6,278.6 L213.1,282.5 L213.7,278.7 L214.2,278.9 L214.8,278.1 L215.3,279.3 L215.9,281.1 L216.4,279.1 L217.0,281.0 L217.5,279.2 L218.1,281.0 L218.6,282.0 L219.2,283.3 L219.7,280.5 L220.3,278.1 L220.8,282.6 L221.4,280.4 L221.9,278.8 L222.5,282.5 L223.0,281.3 L223.6,280.2 L224.1,280.7 L224.7,283.0 L225.2,282.1 L225.8,283.0 L226.3,280.9 L226.9,279.6 L227.4,284.7 L228.0,283.1 L228.5,279.8 L229.1,281.6 L229.6,282.5 L230.2,284.0 L230.7,282.5 L231.3,280.5 L231.8,279.5 L232.4,282.4 L232.9,283.8 L233.5,281.3 L234.0,283.5 L234.6,282.5 L235.1,285.5 L235.7,281.3 L236.2,283.8 L236.8,281.5 L237.3,281.7 L237.9,283.0 L238.4,280.7 L239.0,285.0 L239.5,280.3 L240.1,283.4 L240.6,282.8 L241.2,281.1 L241.7,282.7 L242.3,283.1 L242.8,282.6 L243.4,284.0 L243.9,283.4 L244.5,285.4 L245.0,284.9 L245.6,283.8 L246.1,282.4 L246.7,283.1 L247.2,281.9 L247.8,284.0 L248.3,284.7 L248.9,283.4 L249.4,280.5 L250.0,282.0 L250.5,283.6 L251.1,281.9 L251.6,283.4 L252.2,282.9 L252.7,280.6 L253.3,280.3 L253.8,279.9 L254.4,284.1 L254.9,282.5 L255.5,280.3 L256.0,279.5 L256.6,281.9 L257.1,283.2 L257.7,282.7 L258.2,281.0 L258.8,284.0 L259.3,282.7 L259.9,283.3 L260.4,282.3 L261.0,280.5 L261.5,279.9 L262.1,283.2 L262.6,285.2 L263.2,284.0 L263.7,280.4 L264.3,279.4 L264.8,282.0 L265.4,280.2 L265.9,280.2 L266.5,282.7 L267.0,280.7 L267.6,279.8 L268.1,281.8 L268.7,279.7 L269.2,281.3 L269.8,281.1 L270.3,280.4 L270.9,279.1 L271.4,281.7 L272.0,282.7 L272.5,281.7 L273.1,284.3 L273.6,283.1 L274.2,283.8 L274.7,283.5 L275.3,283.7 L275.8,281.3 L276.4,284.5 L276.9,283.0 L277.5,280.2 L278.0,283.3 L278.6,280.8 L279.1,278.3 L279.7,283.9 L280.2,286.9 L280.8,285.3 L281.3,286.6 L281.9,283.7 L282.4,285.5 L283.0,289.8 L283.5,286.6 L284.1,283.8 L284.6,281.5 L285.2,284.1 L285.7,285.0 L286.3,285.9 L286.8,288.0 L287.4,287.2 L287.9,285.9 L288.5,287.5 L289.0,290.0 L289.6,283.1 L290.1,285.3 L290.7,290.2 L291.2,287.1 L291.8,287.4 L292.3,284.1 L292.9,284.1 L293.4,283.4 L294.0,286.9 L294.5,287.9 L295.1,286.3 L295.6,286.5 L296.2,289.1 L296.7,287.7 L297.3,290.8 L297.8,286.9 L298.4,287.1 L298.9,288.6 L299.5,286.9 L300.0,287.9 L300.6,286.3 L301.1,291.2 L301.7,293.2 L302.2,291.2 L302.8,290.1 L303.3,291.9 L303.9,291.6 L304.4,291.2 L305.0,293.4 L305.5,293.8 L306.1,294.4 L306.6,295.8 L307.2,293.4 L307.7,297.2 L308.3,298.0 L308.8,297.4 L309.4,295.4 L309.9,296.7 L310.5,296.4 L311.0,299.4 L311.6,303.5 L312.1,305.1 L312.7,304.2 L313.2,305.2 L313.8,306.4 L314.3,306.1 L314.9,310.4 L315.4,313.1 L316.0,313.2 L316.5,314.1 L317.1,317.2 L317.6,319.5 L318.2,324.3 L318.7,323.3 L319.3,324.0 L319.8,325.4 L320.4,327.2 L320.9,331.3 L321.5,333.6 L322.0,337.8 L322.6,339.9 L323.1,343.0 L323.7,344.4 L324.2,343.5 L324.8,345.0 L325.3,346.6 L325.9,346.5 L326.4,347.8 L327.0,348.2 L327.5,347.6 L328.1,348.2 L328.6,349.5 L329.2,348.6 L329.7,350.7 L330.3,349.5 L330.8,350.4 L331.4,348.3 L331.9,348.4 L332.5,351.8 L333.0,349.7 L333.6,350.2 L334.1,348.6 L334.7,349.8 L335.2,354.0 L335.8,349.3 L336.3,349.3 L336.9,349.2 L337.4,350.3 L338.0,352.8 L338.5,350.4 L339.1,348.7 L339.6,350.1 L340.2,351.6 L340.7,352.6 L341.3,352.8 L341.8,351.1 L342.4,352.8 L342.9,351.6 L343.5,350.7 L344.0,351.2 L344.6,350.4 L345.1,350.1 L345.7,351.3 L346.2,350.5 L346.8,354.2 L347.3,352.1 L347.9,354.4 L348.4,352.2 L349.0,350.3 L349.5,351.3 L350.1,351.3 L350.6,351.4 L351.2,352.2 L351.7,351.8 L352.3,352.1 L352.8,351.6 L353.4,350.3 L353.9,351.8 L354.5,351.0 L355.0,349.1 L355.6,349.4 L356.1,351.2 L356.7,351.8 L357.2,350.3 L357.8,351.3 L358.3,351.1 L358.9,351.3 L359.4,351.2 L360.0,352.1 L360.5,350.2 L361.1,351.2 L361.6,352.8 L362.2,351.7 L362.7,349.8 L363.3,351.8 L363.8,352.9 L364.4,352.1 L364.9,351.1 L365.5,352.6 L366.0,351.2 L366.6,352.9 L367.1,351.3 L367.7,351.0 L368.2,351.4 L368.8,352.0 L369.3,351.2 L369.9,350.3 L370.4,350.7 L371.0,354.5 L371.5,352.5 L372.1,351.1 L372.6,352.3 L373.2,354.6 L373.7,351.2 L374.3,351.0 L374.8,351.0 L375.4,352.7 L375.9,351.2 L376.5,350.6 L377.0,349.4 L377.6,351.4 L378.1,352.2 L378.7,354.0 L379.2,350.2 L379.8,352.3 L380.3,350.1 L380.9,351.9 L381.4,354.1 L382.0,350.6 L382.5,349.0 L383.1,351.4 L383.6,350.7 L384.2,348.5 L384.7,350.6 L385.3,353.1 L385.8,350.0 L386.4,352.5 L386.9,350.9 L387.5,341.5 L388.0,351.1 L388.6,351.9 L389.1,350.7 L389.7,349.9 L390.2,351.1 L390.8,349.8 L391.3,351.6 L391.9,350.7 L392.4,351.7 L393.0,349.5 L393.5,350.3 L394.1,351.0 L394.6,349.8 L395.2,348.5 L395.7,349.1 L396.3,352.9 L396.8,350.8 L397.4,349.4 L397.9,349.4 L398.5,347.9 L399.0,350.1 L399.6,349.5 L400.1,349.5 L400.7,350.6 L401.2,350.6 L401.8,348.8 L402.3,350.8 L402.9,349.1 L403.4,350.0 L404.0,350.9 L404.5,352.2 L405.1,350.2 L405.6,350.9 L406.2,349.5 L406.7,350.4 L407.3,351.2 L407.8,350.9 L408.4,352.6 L408.9,351.9 L409.5,351.9 L410.0,352.2 L410.6,350.9 L411.1,352.2 L411.7,353.7 L412.2,350.9 L412.8,350.9 L413.3,352.0 L413.9,350.6 L414.4,350.1 L415.0,350.3 L415.5,349.5 L416.1,351.8 L416.6,348.1 L417.2,348.3 L417.7,351.8 L418.3,351.3 L418.8,352.2 L419.4,349.9 L419.9,348.7 L420.5,350.3 L421.0,351.2 L421.6,353.1 L422.1,350.8 L422.7,352.5 L423.2,351.5 L423.8,349.6 L424.3,349.5 L424.9,350.1 L425.4,353.7 L426.0,352.6 L426.5,353.6 L427.1,350.8 L427.6,350.4 L428.2,350.8 L428.7,350.5 L429.3,350.5 L429.8,348.8 L430.4,349.8 L430.9,352.2 L431.5,351.4 L432.0,352.6 L432.6,350.8 L433.1,349.1 L433.7,349.9 L434.2,348.7 L434.8,352.6 L435.3,352.6 L435.9,351.3 L436.4,350.2 L437.0,351.2 L437.5,350.0 L438.1,350.1 L438.6,351.2" stroke="#ff00ff"/>
<path d="M107.5,266.4 L108.0,271.2 L108.6,272.9 L109.1,272.6 L109.7,271.4 L110.2,273.0 L110.8,274.4 L111.3,272.3 L111.9,271.3 L112.4,272.6 L113.0,272.9 L113.5,274.2 L114.1,274.3 L114.6,273.5 L115.2,269.1 L115.7,272.4 L116.3,270.8 L116.8,272.1 L117.4,271.1 L117.9,269.5 L118.5,269.0 L119.0,273.3 L119.6,268.4 L120.1,269.7 L120.7,268.1 L121.2,270.9 L121.8,273.4 L122.3,272.4 L122.9,270.4 L123.4,273.1 L124.0,273.3 L124.5,272.3 L125.1,271.8 L125.6,271.3 L126.2,269.9 L126.7,271.4 L127.3,270.1 L127.8,272.9 L128.4,272.4 L128.9,269.1 L129.5,267.5 L130.0,272.0 L130.6,271.2 L131.1,270.2 L131.7,267.7 L132.2,271.6 L132.8,272.1 L133.3,270.8 L133.9,269.5 L134.5,272.1 L135.0,268.9 L135.6,274.0 L136.1,268.9 L136.7,271.0 L137.2,269.3 L137.8,267.1 L138.3,269.6 L138.9,271.9 L139.4,270.0 L140.0,271.1 L140.5,268.8 L141.1,269.3 L141.6,265.6 L142.2,267.6 L142.7,269.1 L143.3,272.6 L143.8,267.8 L144.4,270.2 L144.9,269.4 L145.5,270.8 L146.0,267.3 L146.6,271.3 L147.1,267.3 L147.7,270.2 L148.2,272.9 L148.8,271.5 L149.3,273.3 L149.9,271.9 L150.4,270.5 L151.0,267.3 L151.5,268.6 L152.1,270.0 L152.6,271.4 L153.2,269.4 L153.7,269.9 L154.3,269.9 L154.8,272.5 L155.4,269.6 L155.9,269.9 L156.5,270.3 L157.0,273.1 L157.6,269.4 L158.1,270.6 L158.7,269.5 L159.2,273.6 L159.8,271.9 L160.3,269.4 L160.9,271.6 L161.4,271.4 L162.0,268.4 L162.5,273.5 L163.1,273.5 L163.6,272.4 L164.2,275.1 L164.7,272.3 L165.3,270.4 L165.8,270.3 L166.4,271.7 L166.9,272.5 L167.5,271.3 L168.0,270.0 L168.6,270.5 L169.1,270.2 L169.7,274.2 L170.2,271.7 L170.8,273.1 L171.3,273.0 L171.9,273.9 L172.4,272.3 L173.0,271.6 L173.5,270.4 L174.1,270.8 L174.6,274.3 L175.2,269.1 L175.7,269.9 L176.3,271.6 L176.8,271.4 L177.4,269.7 L177.9,270.6 L178.5,271.9 L179.0,274.1 L179.6,270.8 L180.1,270.9 L180.7,270.7 L181.2,270.7 L181.8,270.9 L182.3,268.2 L182.9,269.7 L183.4,269.5 L184.0,270.3 L184.5,269.5 L185.1,271.9 L185.6,271.8 L186.2,272.3 L186.7,273.6 L187.3,271.8 L187.8,271.8 L188.4,270.8 L188.9,274.8 L189.5,271.8 L190.0,268.8 L190.6,276.9 L191.1,271.2 L191.7,271.2 L192.2,272.8 L192.8,275.3 L193.3,273.3 L193.9,273.3 L194.4,271.3 L195.0,271.4 L195.5,272.6 L196.1,270.4 L196.6,271.0 L197.2,272.3 L197.7,269.3 L198.3,272.3 L198.8,269.9 L199.4,274.2 L199.9,275.0 L200.5,277.0 L201.0,271.2 L201.6,272.1 L202.1,274.2 L202.7,269.8 L203.2,271.9 L203.8,267.8 L204.3,274.0 L204.9,273.9 L205.4,273.0 L206.0,271.5 L206.5,272.3 L207.1,270.1 L207.6,270.0 L208.2,272.6 L208.7,270.9 L209.3,269.2 L209.8,275.1 L210.4,274.1 L210.9,272.4 L211.5,275.4 L212.0,275.5 L212.6,272.6 L213.1,272.4 L213.7,273.3 L214.2,270.1 L214.8,267.6 L215.3,273.5 L215.9,270.2 L216.4,274.1 L217.0,271.1 L217.5,274.0 L218.1,275.2 L218.6,273.8 L219.2,276.1 L219.7,271.4 L220.3,270.6 L220.8,266.2 L221.4,272.3 L221.9,270.4 L222.5,270.9 L223.0,271.4 L223.6,272.0 L224.1,271.4 L224.7,271.3 L225.2,272.0 L225.8,270.3 L226.3,270.5 L226.9,274.5 L227.4,271.5 L228.0,274.6 L228.5,274.2 L229.1,274.2 L229.6,272.3 L230.2,272.7 L230.7,273.1 L231.3,272.8 L231.8,270.2 L232.4,268.8 L232.9,271.6 L233.5,269.3 L234.0,270.9 L234.6,272.7 L235.1,271.6 L235.7,270.8 L236.2,271.3 L236.8,273.1 L237.3,269.4 L237.9,269.9 L238.4,273.6 L239.0,268.8 L239.5,269.0 L240.1,272.2 L240.6,268.4 L241.2,270.9 L241.7,271.9 L242.3,269.4 L242.8,268.6 L243.4,273.2 L243.9,270.4 L244.5,268.5 L245.0,271.3 L245.6,270.0 L246.1,272.4 L246.7,270.9 L247.2,273.2 L247.8,273.7 L248.3,272.3 L248.9,270.8 L249.4,273.4 L250.0,272.6 L250.5,272.8 L251.1,272.1 L251.6,276.1 L252.2,275.5 L252.7,270.8 L253.3,271.2 L253.8,269.3 L254.4,272.3 L254.9,275.3 L255.5,274.3 L256.0,273.9 L256.6,271.3 L257.1,272.0 L257.7,274.7 L258.2,273.4 L258.8,274.9 L259.3,269.4 L259.9,269.7 L260.4,270.2 L261.0,271.1 L261.5,270.4 L262.1,269.8 L262.6,270.4 L263.2,272.3 L263.7,273.9 L264.3,273.1 L264.8,271.1 L265.4,269.2 L265.9,272.4 L266.5,272.4 L267.0,271.7 L267.6,270.7 L268.1,273.7 L268.7,271.7 L269.2,273.9 L269.8,272.6 L270.3,272.8 L270.9,272.3 L271.4,272.7 L272.0,270.9 L272.5,273.0 L273.1,270.1 L273.6,271.7 L274.2,268.1 L274.7,273.0 L275.3,269.2 L275.8,270.9 L276.4,273.9 L276.9,274.6 L277.5,270.0 L278.0,272.0 L278.6,270.4 L279.1,275.9 L279.7,272.0 L280.2,270.2 L280.8,272.7 L281.3,275.5 L281.9,272.8 L282.4,274.1 L283.0,273.7 L283.5,270.1 L284.1,271.9 L284.6,272.5 L285.2,273.3 L285.7,275.8 L286.3,273.0 L286.8,274.6 L287.4,274.1 L287.9,274.9 L288.5,275.2 L289.0,274.2 L289.6,276.0 L290.1,274.3 L290.7,276.8 L291.2,271.1 L291.8,274.7 L292.3,276.8 L292.9,278.0 L293.4,276.6 L294.0,272.1 L294.5,276.8 L295.1,274.1 L295.6,273.7 L296.2,276.1 L296.7,275.2 L297.3,273.7 L297.8,275.3 L298.4,278.6 L298.9,274.9 L299.5,277.2 L300.0,276.2 L300.6,276.1 L301.1,275.1 L301.7,275.6 L302.2,275.2 L302.8,275.2 L303.3,276.6 L303.9,277.0 L304.4,277.2 L305.0,274.8 L305.5,277.7 L306.1,276.9 L306.6,275.9 L307.2,279.0 L307.7,274.0 L308.3,276.8 L308.8,274.5 L309.4,279.2 L309.9,278.9 L310.5,276.1 L311.0,276.4 L311.6,277.7 L312.1,273.5 L312.7,276.6 L313.2,274.2 L313.8,278.5 L314.3,279.8 L314.9,276.7 L315.4,278.4 L316.0,278.7 L316.5,276.6 L317.1,279.3 L317.6,275.8 L318.2,277.2 L318.7,281.5 L319.3,279.7 L319.8,279.8 L320.4,279.7 L320.9,277.2 L321.5,277.3 L322.0,280.5 L322.6,280.7 L323.1,280.7 L323.7,281.3 L324.2,276.2 L324.8,281.6 L325.3,281.3 L325.9,278.6 L326.4,280.6 L327.0,283.8 L327.5,280.9 L328.1,282.2 L328.6,288.0 L329.2,284.6 L329.7,288.6 L330.3,285.4 L330.8,290.7 L331.4,287.1 L331.9,289.1 L332.5,294.7 L333.0,292.8 L333.6,293.6 L334.1,292.9 L334.7,295.3 L335.2,294.9 L335.8,298.5 L336.3,300.2 L336.9,301.6 L337.4,305.2 L338.0,308.9 L338.5,307.3 L339.1,309.6 L339.6,313.8 L340.2,315.8 L340.7,314.1 L341.3,316.4 L341.8,318.0 L342.4,321.4 L342.9,320.7 L343.5,322.7 L344.0,325.2 L344.6,325.6 L345.1,328.2 L345.7,329.3 L346.2,331.0 L346.8,332.5 L347.3,332.0 L347.9,334.8 L348.4,334.4 L349.0,336.0 L349.5,333.0 L350.1,334.2 L350.6,335.5 L351.2,337.1 L351.7,336.6 L352.3,336.0 L352.8,338.6 L353.4,336.6 L353.9,340.2 L354.5,340.1 L355.0,341.7 L355.6,340.7 L356.1,340.0 L356.7,339.8 L357.2,339.0 L357.8,336.5 L358.3,337.7 L358.9,339.9 L359.4,339.1 L360.0,337.0 L360.5,338.0 L361.1,339.3 L361.6,341.8 L362.2,340.9 L362.7,339.8 L363.3,340.2 L363.8,342.0 L364.4,340.9 L364.9,340.2 L365.5,340.7 L366.0,340.9 L366.6,338.6 L367.1,340.9 L367.7,339.8 L368.2,340.4 L368.8,340.5 L369.3,339.0 L369.9,338.4 L370.4,339.7 L371.0,342.1 L371.5,341.1 L372.1,341.9 L372.6,340.3 L373.2,338.8 L373.7,339.9 L374.3,340.5 L374.8,340.1 L375.4,342.2 L375.9,337.5 L376.5,340.4 L377.0,337.8 L377.6,339.7 L378.1,341.1 L378.7,341.1 L379.2,341.4 L379.8,341.3 L380.3,342.3 L380.9,340.8 L381.4,342.4 L382.0,341.1 L382.5,340.4 L383.1,342.6 L383.6,342.6 L384.2,343.2 L384.7,343.0 L385.3,342.9 L385.8,343.0 L386.4,340.1 L386.9,341.8 L387.5,331.5 L388.0,342.9 L388.6,343.3 L389.1,341.8 L389.7,340.3 L390.2,340.0 L390.8,342.5 L391.3,341.6 L391.9,340.1 L392.4,339.3 L393.0,341.4 L393.5,341.1 L394.1,341.0 L394.6,339.4 L395.2,341.6 L395.7,341.0 L396.3,342.3 L396.8,341.2 L397.4,341.6 L397.9,339.9 L398.5,339.6 L399.0,339.6 L399.6,341.5 L400.1,340.9 L400.7,340.5 L401.2,340.8 L401.8,341.0 L402.3,340.4 L402.9,339.7 L403.4,340.6 L404.0,343.2 L404.5,340.0 L405.1,341.1 L405.6,341.3 L406.2,340.4 L406.7,340.3 L407.3,340.8 L407.8,341.0 L408.4,344.0 L408.9,342.8 L409.5,342.5 L410.0,341.3 L410.6,341.8 L411.1,339.2 L411.7,341.3 L412.2,341.1 L412.8,340.2 L413.3,340.8 L413.9,340.9 L414.4,341.0 L415.0,341.3 L415.5,339.0 L416.1,341.2 L416.6,338.4 L417.2,340.7 L417.7,340.2 L418.3,341.4 L418.8,341.2 L419.4,342.6 L419.9,341.5 L420.5,341.5 L421.0,340.4 L421.6,340.7 L422.1,339.2 L422.7,341.3 L423.2,340.2 L423.8,342.1 L424.3,342.1 L424.9,343.7 L425.4,342.7 L426.0,342.5 L426.5,343.8 L427.1,342.4 L427.6,343.5 L428.2,343.5 L428.7,343.9 L429.3,342.5 L429.8,343.4 L430.4,341.4 L430.9,343.0 L431.5,340.3 L432.0,340.6 L432.6,341.3 L433.1,341.4 L433.7,341.7 L434.2,341.6 L434.8,341.3 L435.3,341.4 L435.9,341.0 L436.4,343.1 L437.0,341.1 L437.5,341.8 L438.1,339.7 L438.6,341.5" stroke="#ffff00"/>
<path d="M107.5,262.3 L108.0,265.6 L108.6,263.8 L109.1,258.6 L109.7,260.5 L110.2,261.1 L110.8,260.3 L111.3,259.2 L111.9,261.5 L112.4,261.6 L113.0,262.0 L113.5,261.1 L114.1,260.7 L114.6,262.3 L115.2,262.4 L115.7,260.1 L116.3,259.0 L116.8,260.0 L117.4,263.8 L117.9,263.6 L118.5,261.3 L119.0,263.9 L119.6,263.5 L120.1,259.4 L120.7,261.8 L121.2,262.6 L121.8,259.3 L122.3,263.9 L122.9,261.9 L123.4,265.5 L124.0,263.4 L124.5,262.4 L125.1,261.1 L125.6,259.4 L126.2,258.1 L126.7,263.6 L127.3,257.4 L127.8,259.0 L128.4,257.2 L128.9,258.9 L129.5,262.7 L130.0,259.6 L130.6,258.6 L131.1,260.1 L131.7,259.3 L132.2,257.7 L132.8,258.7 L133.3,255.8 L133.9,259.0 L134.5,262.4 L135.0,257.4 L135.6,260.3 L136.1,258.8 L136.7,259.8 L137.2,261.3 L137.8,261.1 L138.3,258.5 L138.9,260.5 L139.4,263.0 L140.0,261.4 L140.5,260.1 L141.1,262.2 L141.6,261.3 L142.2,261.0 L142.7,259.9 L143.3,262.3 L143.8,259.2 L144.4,261.8 L144.9,258.6 L145.5,257.4 L146.0,262.8 L146.6,260.8 L147.1,261.1 L147.7,259.5 L148.2,262.4 L148.8,260.5 L149.3,261.4 L149.9,262.6 L150.4,262.3 L151.0,262.2 L151.5,258.8 L152.1,262.6 L152.6,264.3 L153.2,264.3 L153.7,258.3 L154.3,261.9 L154.8,264.1 L155.4,263.8 L155.9,263.8 L156.5,260.6 L157.0,259.9 L157.6,262.1 L158.1,264.6 L158.7,261.2 L159.2,264.9 L159.8,256.2 L160.3,262.2 L160.9,261.4 L161.4,259.7 L162.0,261.6 L162.5,263.7 L163.1,264.3 L163.6,264.2 L164.2,258.5 L164.7,262.8 L165.3,262.4 L165.8,261.4 L166.4,257.5 L166.9,264.4 L167.5,260.8 L168.0,259.0 L168.6,261.3 L169.1,259.2 L169.7,265.6 L170.2,263.8 L170.8,262.8 L171.3,261.6 L171.9,266.9 L172.4,262.2 L173.0,261.3 L173.5,257.7 L174.1,262.7 L174.6,260.4 L175.2,260.8 L175.7,259.6 L176.3,263.9 L176.8,262.1 L177.4,261.8 L177.9,266.0 L178.5,261.1 L179.0,262.3 L179.6,258.8 L180.1,260.6 L180.7,261.0 L181.2,259.7 L181.8,258.5 L182.3,266.0 L182.9,262.5 L183.4,262.4 L184.0,261.1 L184.5,257.4 L185.1,260.2 L185.6,259.2 L186.2,259.4 L186.7,261.8 L187.3,264.1 L187.8,261.9 L188.4,264.8 L188.9,264.3 L189.5,261.5 L190.0,262.8 L190.6,260.6 L191.1,264.2 L191.7,262.0 L192.2,261.2 L192.8,265.4 L193.3,261.1 L193.9,262.1 L194.4,260.0 L195.0,262.7 L195.5,260.5 L196.1,262.3 L196.6,261.1 L197.2,262.6 L197.7,266.2 L198.3,260.9 L198.8,262.4 L199.4,262.5 L199.9,261.9 L200.5,264.3 L201.0,260.9 L201.6,264.8 L202.1,263.9 L202.7,264.1 L203.2,261.2 L203.8,260.4 L204.3,263.7 L204.9,261.3 L205.4,257.8 L206.0,263.1 L206.5,261.1 L207.1,262.4 L207.6,257.6 L208.2,261.5 L208.7,264.0 L209.3,262.0 L209.8,260.8 L210.4,261.0 L210.9,260.6 L211.5,260.6 L212.0,259.9 L212.6,260.6 L213.1,262.6 L213.7,259.3 L214.2,257.7 L214.8,261.3 L215.3,264.5 L215.9,259.4 L216.4,256.8 L217.0,259.0 L217.5,262.6 L218.1,262.7 L218.6,263.4 L219.2,262.9 L219.7,258.9 L220.3,257.7 L220.8,262.0 L221.4,259.4 L221.9,263.0 L222.5,262.3 L223.0,257.2 L223.6,259.3 L224.1,259.0 L224.7,258.0 L225.2,257.7 L225.8,261.4 L226.3,258.0 L226.9,260.3 L227.4,261.7 L228.0,260.3 L228.5,262.1 L229.1,261.7 L229.6,263.3 L230.2,261.7 L230.7,259.7 L231.3,258.8 L231.8,261.6 L232.4,262.1 L232.9,258.5 L233.5,260.7 L234.0,260.9 L234.6,261.1 L235.1,265.3 L235.7,262.0 L236.2,262.6 L236.8,260.8 L237.3,259.5 L237.9,259.9 L238.4,258.9 L239.0,260.8 L239.5,260.5 L240.1,262.7 L240.6,261.2 L241.2,260.0 L241.7,263.1 L242.3,262.7 L242.8,260.5 L243.4,261.6 L243.9,259.4 L244.5,264.7 L245.0,261.5 L245.6,263.5 L246.1,263.4 L246.7,262.4 L247.2,260.4 L247.8,263.1 L248.3,263.3 L248.9,258.5 L249.4,259.7 L250.0,259.5 L250.5,257.4 L251.1,260.0 L251.6,264.0 L252.2,261.6 L252.7,261.8 L253.3,261.5 L253.8,256.6 L254.4,261.4 L254.9,263.3 L255.5,262.3 L256.0,261.6 L256.6,256.7 L257.1,263.3 L257.7,260.6 L258.2,262.0 L258.8,258.9 L259.3,260.0 L259.9,262.2 L260.4,258.4 L261.0,266.0 L261.5,261.1 L262.1,261.4 L262.6,258.2 L263.2,262.6 L263.7,259.0 L264.3,261.1 L264.8,258.6 L265.4,259.9 L265.9,257.2 L266.5,259.8 L267.0,261.2 L267.6,259.8 L268.1,259.9 L268.7,259.7 L269.2,260.6 L269.8,258.9 L270.3,259.2 L270.9,260.6 L271.4,262.5 L272.0,263.1 L272.5,264.2 L273.1,262.5 L273.6,261.2 L274.2,263.6 L274.7,261.7 L275.3,264.7 L275.8,262.1 L276.4,264.2 L276.9,261.7 L277.5,261.0 L278.0,263.2 L278.6,263.7 L279.1,260.9 L279.7,265.8 L280.2,263.6 L280.8,263.9 L281.3,263.0 L281.9,266.1 L282.4,261.3 L283.0,261.1 L283.5,259.9 L284.1,265.7 L284.6,265.8 L285.2,264.8 L285.7,261.7 L286.3,264.3 L286.8,264.9 L287.4,265.1 L287.9,266.7 L288.5,262.6 L289.0,263.9 L289.6,263.4 L290.1,261.4 L290.7,261.4 L291.2,264.4 L291.8,265.3 L292.3,265.2 L292.9,262.1 L293.4,262.2 L294.0,262.8 L294.5,262.2 L295.1,261.7 L295.6,261.4 L296.2,263.6 L296.7,264.3 L297.3,265.1 L297.8,263.5 L298.4,263.2 L298.9,262.6 L299.5,263.4 L300.0,261.6 L300.6,264.5 L301.1,266.8 L301.7,264.5 L302.2,262.9 L302.8,264.0 L303.3,261.3 L303.9,264.2 L304.4,265.7 L305.0,263.6 L305.5,263.1 L306.1,262.7 L306.6,258.6 L307.2,258.7 L307.7,266.5 L308.3,263.5 L308.8,266.0 L309.4,264.1 L309.9,262.5 L310.5,263.3 L311.0,262.8 L311.6,262.1 L312.1,262.2 L312.7,259.1 L313.2,260.1 L313.8,265.4 L314.3,262.8 L314.9,262.9 L315.4,265.3 L316.0,263.6 L316.5,265.6 L317.1,261.6 L317.6,264.5 L318.2,261.8 L318.7,264.1 L319.3,264.2 L319.8,264.6 L320.4,263.6 L320.9,266.0 L321.5,266.5 L322.0,262.6 L322.6,262.6 L323.1,262.0 L323.7,263.3 L324.2,266.0 L324.8,266.1 L325.3,262.9 L325.9,263.8 L326.4,261.0 L327.0,263.4 L327.5,264.7 L328.1,261.9 L328.6,265.5 L329.2,266.9 L329.7,264.5 L330.3,266.3 L330.8,265.1 L331.4,266.9 L331.9,265.1 L332.5,270.4 L333.0,268.9 L333.6,267.2 L334.1,267.7 L334.7,268.3 L335.2,270.3 L335.8,266.7 L336.3,267.0 L336.9,268.1 L337.4,267.2 L338.0,268.8 L338.5,266.2 L339.1,268.0 L339.6,267.6 L340.2,271.2 L340.7,268.2 L341.3,268.0 L341.8,268.8 L342.4,268.1 L342.9,265.2 L343.5,269.1 L344.0,269.3 L344.6,268.2 L345.1,267.9 L345.7,270.7 L346.2,271.8 L346.8,271.1 L347.3,274.1 L347.9,273.2 L348.4,275.9 L349.0,274.5 L349.5,277.9 L350.1,278.4 L350.6,276.1 L351.2,277.2 L351.7,277.5 L352.3,276.9 L352.8,281.5 L353.4,284.8 L353.9,282.5 L354.5,284.5 L355.0,287.0 L355.6,290.0 L356.1,287.2 L356.7,289.4 L357.2,290.0 L357.8,293.0 L358.3,292.2 L358.9,296.2 L359.4,295.4 L360.0,300.8 L360.5,299.0 L361.1,302.3 L361.6,303.1 L362.2,307.7 L362.7,309.4 L363.3,312.8 L363.8,312.4 L364.4,315.5 L364.9,314.0 L365.5,313.1 L366.0,317.8 L366.6,317.2 L367.1,317.3 L367.7,320.5 L368.2,321.6 L368.8,322.9 L369.3,323.6 L369.9,326.8 L370.4,327.8 L371.0,327.1 L371.5,325.9 L372.1,325.4 L372.6,330.1 L373.2,327.9 L373.7,327.7 L374.3,327.6 L374.8,329.2 L375.4,330.5 L375.9,329.6 L376.5,328.7 L377.0,330.4 L377.6,330.8 L378.1,331.4 L378.7,332.4 L379.2,331.4 L379.8,330.8 L380.3,331.6 L380.9,330.4 L381.4,328.3 L382.0,331.6 L382.5,331.2 L383.1,331.1 L383.6,331.5 L384.2,330.3 L384.7,331.6 L385.3,332.9 L385.8,333.3 L386.4,332.4 L386.9,330.9 L387.5,321.2 L388.0,330.9 L388.6,329.6 L389.1,330.6 L389.7,331.2 L390.2,332.8 L390.8,333.2 L391.3,331.8 L391.9,330.4 L392.4,330.4 L393.0,330.4 L393.5,332.2 L394.1,331.2 L394.6,329.9 L395.2,329.2 L395.7,332.9 L396.3,331.3 L396.8,332.5 L397.4,332.3 L397.9,331.1 L398.5,330.8 L399.0,330.2 L399.6,330.2 L400.1,328.9 L400.7,329.5 L401.2,331.1 L401.8,331.5 L402.3,331.8 L402.9,331.9 L403.4,334.7 L404.0,331.0 L404.5,331.1 L405.1,332.5 L405.6,329.6 L406.2,331.3 L406.7,331.1 L407.3,331.8 L407.8,332.9 L408.4,329.4 L408.9,332.3 L409.5,330.4 L410.0,331.9 L410.6,332.0 L411.1,334.8 L411.7,331.3 L412.2,331.5 L412.8,331.5 L413.3,332.1 L413.9,333.4 L414.4,331.0 L415.0,330.7 L415.5,333.4 L416.1,330.9 L416.6,329.9 L417.2,331.8 L417.7,330.4 L418.3,331.6 L418.8,333.1 L419.4,330.6 L419.9,330.2 L420.5,330.7 L421.0,330.6 L421.6,329.2 L422.1,330.9 L422.7,330.8 L423.2,330.5 L423.8,332.3 L424.3,331.3 L424.9,330.2 L425.4,332.0 L426.0,332.7 L426.5,332.9 L427.1,330.0 L427.6,331.5 L428.2,330.2 L428.7,330.8 L429.3,328.8 L429.8,331.9 L430.4,332.3 L430.9,331.0 L431.5,331.8 L432.0,330.6 L432.6,330.1 L433.1,330.9 L433.7,331.3 L434.2,331.8 L434.8,330.4 L435.3,332.7 L435.9,333.5 L436.4,332.0 L437.0,331.2 L437.5,331.7 L438.1,331.9 L438.6,330.6" stroke="#808000"/>
<path d="M107.5,248.5 L108.0,252.2 L108.6,252.1 L109.1,251.8 L109.7,250.0 L110.2,252.2 L110.8,252.7 L111.3,251.9 L111.9,249.2 L112.4,251.7 L113.0,251.5 L113.5,251.4 L114.1,250.2 L114.6,252.9 L115.2,249.5 L115.7,253.2 L116.3,252.3 L116.8,251.3 L117.4,246.8 L117.9,248.0 L118.5,249.5 L119.0,253.1 L119.6,251.3 L120.1,254.4 L120.7,251.4 L121.2,251.7 L121.8,252.3 L122.3,251.4 L122.9,253.7 L123.4,252.4 L124.0,248.7 L124.5,253.3 L125.1,253.9 L125.6,251.6 L126.2,252.8 L126.7,251.3 L127.3,250.7 L127.8,248.9 L128.4,253.8 L128.9,249.6 L129.5,250.5 L130.0,249.8 L130.6,250.7 L131.1,251.2 L131.7,249.3 L132.2,248.9 L132.8,252.1 L133.3,257.1 L133.9,254.5 L134.5,252.0 L135.0,252.2 L135.6,252.9 L136.1,252.1 L136.7,255.3 L137.2,255.4 L137.8,253.2 L138.3,253.7 L138.9,251.7 L139.4,248.5 L140.0,247.7 L140.5,253.1 L141.1,253.5 L141.6,252.7 L142.2,251.7 L142.7,256.0 L143.3,254.6 L143.8,254.0 L144.4,250.4 L144.9,252.0 L145.5,251.9 L146.0,252.1 L146.6,251.5 L147.1,250.4 L147.7,253.7 L148.2,250.9 L148.8,248.9 L149.3,251.3 L149.9,252.3 L150.4,251.8 L151.0,247.8 L151.5,250.1 L152.1,248.5 L152.6,252.2 L153.2,251.9 L153.7,250.9 L154.3,250.6 L154.8,250.3 L155.4,254.7 L155.9,250.0 L156.5,252.5 L157.0,249.8 L157.6,251.3 L158.1,248.6 L158.7,252.6 L159.2,252.3 L159.8,252.2 L160.3,253.3 L160.9,253.3 L161.4,247.4 L162.0,249.0 L162.5,251.8 L163.1,251.0 L163.6,252.1 L164.2,252.8 L164.7,249.7 L165.3,250.4 L165.8,249.1 L166.4,248.4 L166.9,253.7 L167.5,250.4 L168.0,252.5 L168.6,252.9 L169.1,251.3 L169.7,249.0 L170.2,250.6 L170.8,248.3 L171.3,251.3 L171.9,250.8 L172.4,249.5 L173.0,252.5 L173.5,252.4 L174.1,253.3 L174.6,253.6 L175.2,252.6 L175.7,253.6 L176.3,255.3 L176.8,253.1 L177.4,252.4 L177.9,252.7 L178.5,249.8 L179.0,257.2 L179.6,254.4 L180.1,250.0 L180.7,252.9 L181.2,251.3 L181.8,250.6 L182.3,252.4 L182.9,250.8 L183.4,253.4 L184.0,251.4 L184.5,251.9 L185.1,252.8 L185.6,254.0 L186.2,251.9 L186.7,255.0 L187.3,253.5 L187.8,252.1 L188.4,253.8 L188.9,253.4 L189.5,252.0 L190.0,251.1 L190.6,252.4 L191.1,252.6 L191.7,252.7 L192.2,252.8 L192.8,251.8 L193.3,249.7 L193.9,251.8 L194.4,253.0 L195.0,250.2 L195.5,250.4 L196.1,250.6 L196.6,256.3 L197.2,251.5 L197.7,251.9 L198.3,253.3 L198.8,249.9 L199.4,247.8 L199.9,248.7 L200.5,254.6 L201.0,254.6 L201.6,254.5 L202.1,251.1 L202.7,251.6 L203.2,249.3 L203.8,251.3 L204.3,249.7 L204.9,251.2 L205.4,252.9 L206.0,251.7 L206.5,248.3 L207.1,249.7 L207.6,252.0 L208.2,250.8 L208.7,256.6 L209.3,251.1 L209.8,248.9 L210.4,251.2 L210.9,250.4 L211.5,254.4 L212.0,255.5 L212.6,251.2 L213.1,253.8 L213.7,255.1 L214.2,253.9 L214.8,247.8 L215.3,254.4 L215.9,255.4 L216.4,253.7 L217.0,253.0 L217.5,253.2 L218.1,253.8 L218.6,253.0 L219.2,250.1 L219.7,252.2 L220.3,251.6 L220.8,249.6 L221.4,251.2 L221.9,256.5 L222.5,253.6 L223.0,251.4 L223.6,254.8 L224.1,253.9 L224.7,251.7 L225.2,254.6 L225.8,251.3 L226.3,249.0 L226.9,248.8 L227.4,252.4 L228.0,250.4 L228.5,253.7 L229.1,249.7 L229.6,251.9 L230.2,250.5 L230.7,253.6 L231.3,249.3 L231.8,250.9 L232.4,250.8 L232.9,254.3 L233.5,252.2 L234.0,254.5 L234.6,252.5 L235.1,249.9 L235.7,249.0 L236.2,252.1 L236.8,252.9 L237.3,250.3 L237.9,252.7 L238.4,250.4 L239.0,250.9 L239.5,252.6 L240.1,253.2 L240.6,252.3 L241.2,251.0 L241.7,253.6 L242.3,252.5 L242.8,251.3 L243.4,249.8 L243.9,251.4 L244.5,251.4 L245.0,251.1 L245.6,252.1 L246.1,252.3 L246.7,255.6 L247.2,250.3 L247.8,252.3 L248.3,252.7 L248.9,251.7 L249.4,251.7 L250.0,251.1 L250.5,249.8 L251.1,250.7 L251.6,246.5 L252.2,249.9 L252.7,246.5 L253.3,249.2 L253.8,254.1 L254.4,253.1 L254.9,257.5 L255.5,251.5 L256.0,254.5 L256.6,253.4 L257.1,250.8 L257.7,254.9 L258.2,251.9 L258.8,255.9 L259.3,250.5 L259.9,254.1 L260.4,252.6 L261.0,253.7 L261.5,252.2 L262.1,250.1 L262.6,254.1 L263.2,251.5 L263.7,251.9 L264.3,249.7 L264.8,251.9 L265.4,249.8 L265.9,251.9 L266.5,250.3 L267.0,254.2 L267.6,249.4 L268.1,254.1 L268.7,250.9 L269.2,252.8 L269.8,254.1 L270.3,252.6 L270.9,253.8 L271.4,250.8 L272.0,251.3 L272.5,249.1 L273.1,253.9 L273.6,249.5 L274.2,249.7 L274.7,251.9 L275.3,247.4 L275.8,252.9 L276.4,253.1 L276.9,251.6 L277.5,250.1 L278.0,250.4 L278.6,250.9 L279.1,250.2 L279.7,247.8 L280.2,246.5 L280.8,252.1 L281.3,250.1 L281.9,252.4 L282.4,250.2 L283.0,250.5 L283.5,247.6 L284.1,249.4 L284.6,251.8 L285.2,255.8 L285.7,253.3 L286.3,250.1 L286.8,249.5 L287.4,249.1 L287.9,251.9 L288.5,252.4 L289.0,249.0 L289.6,250.8 L290.1,251.1 L290.7,252.0 L291.2,253.3 L291.8,251.5 L292.3,249.8 L292.9,251.0 L293.4,251.9 L294.0,249.4 L294.5,250.3 L295.1,256.3 L295.6,252.8 L296.2,255.3 L296.7,248.6 L297.3,250.5 L297.8,250.8 L298.4,254.4 L298.9,255.0 L299.5,253.4 L300.0,252.6 L300.6,253.3 L301.1,252.0 L301.7,251.3 L302.2,251.0 L302.8,254.4 L303.3,253.2 L303.9,255.0 L304.4,253.5 L305.0,252.2 L305.5,250.7 L306.1,253.7 L306.6,253.6 L307.2,252.9 L307.7,250.3 L308.3,251.5 L308.8,251.1 L309.4,252.3 L309.9,254.8 L310.5,252.5 L311.0,254.9 L311.6,251.8 L312.1,255.8 L312.7,253.5 L313.2,256.0 L313.8,253.0 L314.3,253.8 L314.9,254.1 L315.4,255.2 L316.0,256.8 L316.5,252.0 L317.1,252.5 L317.6,253.9 L318.2,255.2 L318.7,254.8 L319.3,252.5 L319.8,255.2 L320.4,250.4 L320.9,252.6 L321.5,253.0 L322.0,255.5 L322.6,255.8 L323.1,252.1 L323.7,254.6 L324.2,254.0 L324.8,255.0 L325.3,254.4 L325.9,248.6 L326.4,254.7 L327.0,250.6 L327.5,251.8 L328.1,251.6 L328.6,249.4 L329.2,248.1 L329.7,251.6 L330.3,251.7 L330.8,253.0 L331.4,252.8 L331.9,250.1 L332.5,254.2 L333.0,253.8 L333.6,253.3 L334.1,253.6 L334.7,251.4 L335.2,252.1 L335.8,251.8 L336.3,252.6 L336.9,254.2 L337.4,254.8 L338.0,254.9 L338.5,255.9 L339.1,257.7 L339.6,255.9 L340.2,253.8 L340.7,251.6 L341.3,252.7 L341.8,250.0 L342.4,251.6 L342.9,254.6 L343.5,254.3 L344.0,254.9 L344.6,256.0 L345.1,254.4 L345.7,254.4 L346.2,253.6 L346.8,254.3 L347.3,259.8 L347.9,256.6 L348.4,257.0 L349.0,257.3 L349.5,254.8 L350.1,252.6 L350.6,259.1 L351.2,259.5 L351.7,257.6 L352.3,258.0 L352.8,258.2 L353.4,258.9 L353.9,259.6 L354.5,261.7 L355.0,261.5 L355.6,259.3 L356.1,257.5 L356.7,256.4 L357.2,256.9 L357.8,261.6 L358.3,260.2 L358.9,260.9 L359.4,257.2 L360.0,262.7 L360.5,263.6 L361.1,262.3 L361.6,263.3 L362.2,261.2 L362.7,263.5 L363.3,261.0 L363.8,265.5 L364.4,266.3 L364.9,262.4 L365.5,264.5 L366.0,264.2 L366.6,263.3 L367.1,263.2 L367.7,266.2 L368.2,263.0 L368.8,268.9 L369.3,265.8 L369.9,266.3 L370.4,266.3 L371.0,268.5 L371.5,271.5 L372.1,275.3 L372.6,269.3 L373.2,273.7 L373.7,273.5 L374.3,276.5 L374.8,277.9 L375.4,279.6 L375.9,282.4 L376.5,282.7 L377.0,284.7 L377.6,286.4 L378.1,286.5 L378.7,288.1 L379.2,290.7 L379.8,291.2 L380.3,293.7 L380.9,294.4 L381.4,298.6 L382.0,297.0 L382.5,300.5 L383.1,304.0 L383.6,305.1 L384.2,304.1 L384.7,304.9 L385.3,305.6 L385.8,305.6 L386.4,306.7 L386.9,309.8 L387.5,301.0 L388.0,307.1 L388.6,312.2 L389.1,314.3 L389.7,314.5 L390.2,315.1 L390.8,314.3 L391.3,315.8 L391.9,315.8 L392.4,318.7 L393.0,318.3 L393.5,319.1 L394.1,317.3 L394.6,320.7 L395.2,318.4 L395.7,317.6 L396.3,320.2 L396.8,320.3 L397.4,319.3 L397.9,318.4 L398.5,319.2 L399.0,318.4 L399.6,319.9 L400.1,321.9 L400.7,321.1 L401.2,319.6 L401.8,322.3 L402.3,319.9 L402.9,318.5 L403.4,320.2 L404.0,320.7 L404.5,319.6 L405.1,320.8 L405.6,321.0 L406.2,319.3 L406.7,319.2 L407.3,319.8 L407.8,319.2 L408.4,321.2 L408.9,322.2 L409.5,319.2 L410.0,321.3 L410.6,323.3 L411.1,320.0 L411.7,320.3 L412.2,319.3 L412.8,320.4 L413.3,319.8 L413.9,319.2 L414.4,319.4 L415.0,319.8 L415.5,318.9 L416.1,320.1 L416.6,320.2 L417.2,320.5 L417.7,317.9 L418.3,317.0 L418.8,320.8 L419.4,319.4 L419.9,322.1 L420.5,319.1 L421.0,320.4 L421.6,319.0 L422.1,320.7 L422.7,319.8 L423.2,318.4 L423.8,318.9 L424.3,319.4 L424.9,319.4 L425.4,320.5 L426.0,320.5 L426.5,319.9 L427.1,318.8 L427.6,321.0 L428.2,321.2 L428.7,320.9 L429.3,320.6 L429.8,319.5 L430.4,318.3 L430.9,319.4 L431.5,319.8 L432.0,318.4 L432.6,321.9 L433.1,322.2 L433.7,320.9 L434.2,321.7 L434.8,320.5 L435.3,318.5 L435.9,321.1 L436.4,320.2 L437.0,320.7 L437.5,321.1 L438.1,318.7 L438.6,321.3" stroke="#000080"/>
<path d="M107.5,240.6 L108.0,241.0 L108.6,240.0 L109.1,240.4 L109.7,240.9 L110.2,242.3 L110.8,245.6 L111.3,244.1 L111.9,241.4 L112.4,243.0 L113.0,243.4 L113.5,242.9 L114.1,240.3 L114.6,242.6 L115.2,240.7 L115.7,241.2 L116.3,239.5 L116.8,242.1 L117.4,239.5 L117.9,238.5 L118.5,241.3 L119.0,239.7 L119.6,238.8 L120.1,239.8 L120.7,238.1 L121.2,235.5 L121.8,237.3 L122.3,242.6 L122.9,241.6 L123.4,242.5 L124.0,237.8 L124.5,243.4 L125.1,237.0 L125.6,238.9 L126.2,238.3 L126.7,239.5 L127.3,239.1 L127.8,238.8 L128.4,239.4 L128.9,240.8 L129.5,239.9 L130.0,238.3 L130.6,244.9 L131.1,241.1 L131.7,241.2 L132.2,241.8 L132.8,240.4 L133.3,239.8 L133.9,240.8 L134.5,242.8 L135.0,239.3 L135.6,239.5 L136.1,245.2 L136.7,242.8 L137.2,243.7 L137.8,242.5 L138.3,243.6 L138.9,242.7 L139.4,242.5 L140.0,244.5 L140.5,243.5 L141.1,242.9 L141.6,242.1 L142.2,242.3 L142.7,241.8 L143.3,235.8 L143.8,238.2 L144.4,239.7 L144.9,238.7 L145.5,243.0 L146.0,240.1 L146.6,241.8 L147.1,244.4 L147.7,240.1 L148.2,241.9 L148.8,241.2 L149.3,239.1 L149.9,241.4 L150.4,243.2 L151.0,244.3 L151.5,245.9 L152.1,245.6 L152.6,243.5 L153.2,244.7 L153.7,241.6 L154.3,240.0 L154.8,238.7 L155.4,241.8 L155.9,239.7 L156.5,244.3 L157.0,240.4 L157.6,240.2 L158.1,240.3 L158.7,237.9 L159.2,242.5 L159.8,241.4 L160.3,236.7 L160.9,238.7 L161.4,241.0 L162.0,238.4 L162.5,239.2 L163.1,237.5 L163.6,236.0 L164.2,240.7 L164.7,243.0 L165.3,239.6 L165.8,239.2 L166.4,240.5 L166.9,238.0 L167.5,242.1 L168.0,241.0 L168.6,242.0 L169.1,240.6 L169.7,239.3 L170.2,240.7 L170.8,244.1 L171.3,241.5 L171.9,241.3 L172.4,236.8 L173.0,239.2 L173.5,240.7 L174.1,242.8 L174.6,241.2 L175.2,239.5 L175.7,242.8 L176.3,239.7 L176.8,241.2 L177.4,244.2 L177.9,242.4 L178.5,240.1 L179.0,240.0 L179.6,242.8 L180.1,239.9 L180.7,239.5 L181.2,240.4 L181.8,238.6 L182.3,241.7 L182.9,243.6 L183.4,241.7 L184.0,239.1 L184.5,241.8 L185.1,242.1 L185.6,242.9 L186.2,240.1 L186.7,240.0 L187.3,242.3 L187.8,239.1 L188.4,242.1 L188.9,239.0 L189.5,241.3 L190.0,238.3 L190.6,243.5 L191.1,241.4 L191.7,241.6 L192.2,242.0 L192.8,244.9 L193.3,241.7 L193.9,246.1 L194.4,243.3 L195.0,240.0 L195.5,238.6 L196.1,240.1 L196.6,241.4 L197.2,243.6 L197.7,241.1 L198.3,239.3 L198.8,238.7 L199.4,238.9 L199.9,243.4 L200.5,244.5 L201.0,240.4 L201.6,239.4 L202.1,238.4 L202.7,242.1 L203.2,241.5 L203.8,245.0 L204.3,246.0 L204.9,238.7 L205.4,240.4 L206.0,242.6 L206.5,240.9 L207.1,240.5 L207.6,240.5 L208.2,239.6 L208.7,244.3 L209.3,241.8 L209.8,242.7 L210.4,240.7 L210.9,238.1 L211.5,242.7 L212.0,243.5 L212.6,240.9 L213.1,239.9 L213.7,239.3 L214.2,241.5 L214.8,243.6 L215.3,241.7 L215.9,240.2 L216.4,239.3 L217.0,241.8 L217.5,240.7 L218.1,239.6 L218.6,241.0 L219.2,242.3 L219.7,243.5 L220.3,244.5 L220.8,243.0 L221.4,245.2 L221.9,244.5 L222.5,240.8 L223.0,241.0 L223.6,242.1 L224.1,241.2 L224.7,245.7 L225.2,243.9 L225.8,244.0 L226.3,242.7 L226.9,243.0 L227.4,243.1 L228.0,244.2 L228.5,243.9 L229.1,239.7 L229.6,241.4 L230.2,242.3 L230.7,241.8 L231.3,242.5 L231.8,244.5 L232.4,242.5 L232.9,240.8 L233.5,243.3 L234.0,242.5 L234.6,242.8 L235.1,244.2 L235.7,244.7 L236.2,244.7 L236.8,241.3 L237.3,245.1 L237.9,239.8 L238.4,240.2 L239.0,241.4 L239.5,241.3 L240.1,239.0 L240.6,244.7 L241.2,241.7 L241.7,239.0 L242.3,240.1 L242.8,241.5 L243.4,240.8 L243.9,243.2 L244.5,243.7 L245.0,242.7 L245.6,241.9 L246.1,240.9 L246.7,239.8 L247.2,243.8 L247.8,242.9 L248.3,239.3 L248.9,243.9 L249.4,240.9 L250.0,241.3 L250.5,241.5 L251.1,243.0 L251.6,241.4 L252.2,242.4 L252.7,237.2 L253.3,239.6 L253.8,242.8 L254.4,238.5 L254.9,238.2 L255.5,242.5 L256.0,247.3 L256.6,244.1 L257.1,244.3 L257.7,241.1 L258.2,244.8 L258.8,240.6 L259.3,242.2 L259.9,240.7 L260.4,237.7 L261.0,239.1 L261.5,241.8 L262.1,242.7 L262.6,244.2 L263.2,240.0 L263.7,242.4 L264.3,241.9 L264.8,243.3 L265.4,241.9 L265.9,239.6 L266.5,244.8 L267.0,242.5 L267.6,243.3 L268.1,243.4 L268.7,244.8 L269.2,245.2 L269.8,240.8 L270.3,242.0 L270.9,242.4 L271.4,240.3 L272.0,242.8 L272.5,245.1 L273.1,238.9 L273.6,243.7 L274.2,242.3 L274.7,242.6 L275.3,241.3 L275.8,237.0 L276.4,238.7 L276.9,238.9 L277.5,243.9 L278.0,239.5 L278.6,239.6 L279.1,246.0 L279.7,240.9 L280.2,240.0 L280.8,239.2 L281.3,239.3 L281.9,243.3 L282.4,243.7 L283.0,243.3 L283.5,241.4 L284.1,243.3 L284.6,239.8 L285.2,241.2 L285.7,242.5 L286.3,239.9 L286.8,242.0 L287.4,242.9 L287.9,243.6 L288.5,242.4 L289.0,241.8 L289.6,239.7 L290.1,242.0 L290.7,239.0 L291.2,240.8 L291.8,244.1 L292.3,246.5 L292.9,242.8 L293.4,241.7 L294.0,240.8 L294.5,239.5 L295.1,237.8 L295.6,242.3 L296.2,241.4 L296.7,237.9 L297.3,237.6 L297.8,241.9 L298.4,239.1 L298.9,241.4 L299.5,241.4 L300.0,236.5 L300.6,239.8 L301.1,238.5 L301.7,241.7 L302.2,239.6 L302.8,241.5 L303.3,243.1 L303.9,240.6 L304.4,239.3 L305.0,241.6 L305.5,243.2 L306.1,242.0 L306.6,242.9 L307.2,240.2 L307.7,240.5 L308.3,243.1 L308.8,240.3 L309.4,242.6 L309.9,242.4 L310.5,240.6 L311.0,240.0 L311.6,242.9 L312.1,242.1 L312.7,242.5 L313.2,245.3 L313.8,242.0 L314.3,244.5 L314.9,245.0 L315.4,244.4 L316.0,243.9 L316.5,240.2 L317.1,246.8 L317.6,244.6 L318.2,246.9 L318.7,243.3 L319.3,246.5 L319.8,245.7 L320.4,241.9 L320.9,239.8 L321.5,241.5 L322.0,246.9 L322.6,242.4 L323.1,242.3 L323.7,243.0 L324.2,245.8 L324.8,242.5 L325.3,244.8 L325.9,243.8 L326.4,247.0 L327.0,243.1 L327.5,242.8 L328.1,244.3 L328.6,249.2 L329.2,244.1 L329.7,242.5 L330.3,241.0 L330.8,244.4 L331.4,243.0 L331.9,244.8 L332.5,245.4 L333.0,249.3 L333.6,241.4 L334.1,243.6 L334.7,241.3 L335.2,244.5 L335.8,244.8 L336.3,243.3 L336.9,242.7 L337.4,244.5 L338.0,240.0 L338.5,240.1 L339.1,243.7 L339.6,239.6 L340.2,243.7 L340.7,243.9 L341.3,241.6 L341.8,242.4 L342.4,243.9 L342.9,244.7 L343.5,242.8 L344.0,243.4 L344.6,239.3 L345.1,246.0 L345.7,244.5 L346.2,246.9 L346.8,246.7 L347.3,244.6 L347.9,246.7 L348.4,244.6 L349.0,244.2 L349.5,246.1 L350.1,243.3 L350.6,247.9 L351.2,245.6 L351.7,244.3 L352.3,245.0 L352.8,247.5 L353.4,242.1 L353.9,243.4 L354.5,247.5 L355.0,246.4 L355.6,243.3 L356.1,246.6 L356.7,243.5 L357.2,243.0 L357.8,246.9 L358.3,247.6 L358.9,245.3 L359.4,246.7 L360.0,246.1 L360.5,246.1 L361.1,251.4 L361.6,248.9 L362.2,248.6 L362.7,246.6 L363.3,250.3 L363.8,250.5 L364.4,253.5 L364.9,250.2 L365.5,251.6 L366.0,250.9 L366.6,252.0 L367.1,253.2 L367.7,251.7 L368.2,251.4 L368.8,249.9 L369.3,252.7 L369.9,253.5 L370.4,251.1 L371.0,252.0 L371.5,250.5 L372.1,249.2 L372.6,252.6 L373.2,252.5 L373.7,254.9 L374.3,255.8 L374.8,250.1 L375.4,251.4 L375.9,252.0 L376.5,250.7 L377.0,254.0 L377.6,254.5 L378.1,251.0 L378.7,253.0 L379.2,253.1 L379.8,252.8 L380.3,256.6 L380.9,255.4 L381.4,254.3 L382.0,256.5 L382.5,257.1 L383.1,255.6 L383.6,258.5 L384.2,259.2 L384.7,260.5 L385.3,256.1 L385.8,257.9 L386.4,257.3 L386.9,258.3 L387.5,258.9 L388.0,258.8 L388.6,261.5 L389.1,263.5 L389.7,267.1 L390.2,266.1 L390.8,268.8 L391.3,270.6 L391.9,273.8 L392.4,273.5 L393.0,271.7 L393.5,277.1 L394.1,275.0 L394.6,276.3 L395.2,277.2 L395.7,275.5 L396.3,279.0 L396.8,283.2 L397.4,283.8 L397.9,286.1 L398.5,287.4 L399.0,291.6 L399.6,292.8 L400.1,293.7 L400.7,299.1 L401.2,295.6 L401.8,299.6 L402.3,295.3 L402.9,298.8 L403.4,299.0 L404.0,299.8 L404.5,300.2 L405.1,301.5 L405.6,303.1 L406.2,304.3 L406.7,304.5 L407.3,307.0 L407.8,305.2 L408.4,306.2 L408.9,306.4 L409.5,306.4 L410.0,305.8 L410.6,306.2 L411.1,305.2 L411.7,304.9 L412.2,305.0 L412.8,307.0 L413.3,303.2 L413.9,306.0 L414.4,306.2 L415.0,308.4 L415.5,306.3 L416.1,307.2 L416.6,309.5 L417.2,309.2 L417.7,307.7 L418.3,307.5 L418.8,309.1 L419.4,307.9 L419.9,309.3 L420.5,309.1 L421.0,308.3 L421.6,306.7 L422.1,308.0 L422.7,308.5 L423.2,307.7 L423.8,308.2 L424.3,307.2 L424.9,307.2 L425.4,308.8 L426.0,308.5 L426.5,307.8 L427.1,308.0 L427.6,308.4 L428.2,311.3 L428.7,307.8 L429.3,310.1 L429.8,309.3 L430.4,311.0 L430.9,309.3 L431.5,308.7 L432.0,309.3 L432.6,308.1 L433.1,308.9 L433.7,310.8 L434.2,310.4 L434.8,307.8 L435.3,308.6 L435.9,308.2 L436.4,309.7 L437.0,309.3 L437.5,313.4 L438.1,310.1 L438.6,310.3" stroke="#800080"/>
<path d="M107.5,230.8 L108.0,232.1 L108.6,228.6 L109.1,229.0 L109.7,234.6 L110.2,228.4 L110.8,229.6 L111.3,230.1 L111.9,227.8 L112.4,230.6 L113.0,229.7 L113.5,231.4 L114.1,229.4 L114.6,230.3 L115.2,232.2 L115.7,230.5 L116.3,230.8 L116.8,231.0 L117.4,232.7 L117.9,232.6 L118.5,227.0 L119.0,224.6 L119.6,232.9 L120.1,232.3 L120.7,232.5 L121.2,234.9 L121.8,233.4 L122.3,233.5 L122.9,233.1 L123.4,233.0 L124.0,232.7 L124.5,228.3 L125.1,231.0 L125.6,230.8 L126.2,230.2 L126.7,229.9 L127.3,230.7 L127.8,231.7 L128.4,230.3 L128.9,228.5 L129.5,231.1 L130.0,230.3 L130.6,229.8 L131.1,229.2 L131.7,230.3 L132.2,229.9 L132.8,228.6 L133.3,231.9 L133.9,229.2 L134.5,227.3 L135.0,226.5 L135.6,230.1 L136.1,229.3 L136.7,227.0 L137.2,228.2 L137.8,231.2 L138.3,232.7 L138.9,230.3 L139.4,232.1 L140.0,230.1 L140.5,229.9 L141.1,232.3 L141.6,229.3 L142.2,230.1 L142.7,225.6 L143.3,229.0 L143.8,226.8 L144.4,226.7 L144.9,231.0 L145.5,230.6 L146.0,231.3 L146.6,231.5 L147.1,229.0 L147.7,234.2 L148.2,233.1 L148.8,229.9 L149.3,230.2 L149.9,231.0 L150.4,228.5 L151.0,231.4 L151.5,227.9 L152.1,229.2 L152.6,227.6 L153.2,232.1 L153.7,228.6 L154.3,229.6 L154.8,231.9 L155.4,230.8 L155.9,233.9 L156.5,230.2 L157.0,233.1 L157.6,230.1 L158.1,227.7 L158.7,231.4 L159.2,233.1 L159.8,232.8 L160.3,231.8 L160.9,232.6 L161.4,234.1 L162.0,232.5 L162.5,231.3 L163.1,231.3 L163.6,230.5 L164.2,232.6 L164.7,230.5 L165.3,233.2 L165.8,230.3 L166.4,233.4 L166.9,232.1 L167.5,232.8 L168.0,229.1 L168.6,229.9 L169.1,229.3 L169.7,231.5 L170.2,232.9 L170.8,229.9 L171.3,233.1 L171.9,229.6 L172.4,229.4 L173.0,228.8 L173.5,229.6 L174.1,231.4 L174.6,229.8 L175.2,232.9 L175.7,231.0 L176.3,233.8 L176.8,231.1 L177.4,231.2 L177.9,235.8 L178.5,233.6 L179.0,230.1 L179.6,226.1 L180.1,228.0 L180.7,229.7 L181.2,229.5 L181.8,228.9 L182.3,229.1 L182.9,230.3 L183.4,225.9 L184.0,227.0 L184.5,231.4 L185.1,228.3 L185.6,231.2 L186.2,229.0 L186.7,230.8 L187.3,229.9 L187.8,229.9 L188.4,227.8 L188.9,226.3 L189.5,228.4 L190.0,228.8 L190.6,228.7 L191.1,232.0 L191.7,228.9 L192.2,227.9 L192.8,229.8 L193.3,229.6 L193.9,227.9 L194.4,226.2 L195.0,230.5 L195.5,227.9 L196.1,229.7 L196.6,230.7 L197.2,229.6 L197.7,232.4 L198.3,233.2 L198.8,228.8 L199.4,230.6 L199.9,231.3 L200.5,231.2 L201.0,230.9 L201.6,231.7 L202.1,230.5 L202.7,229.7 L203.2,231.9 L203.8,230.5 L204.3,231.7 L204.9,231.3 L205.4,230.6 L206.0,230.6 L206.5,232.7 L207.1,232.3 L207.6,232.1 L208.2,227.8 L208.7,229.6 L209.3,233.3 L209.8,229.7 L210.4,228.7 L210.9,230.6 L211.5,228.7 L212.0,229.9 L212.6,231.4 L213.1,231.7 L213.7,233.2 L214.2,230.9 L214.8,229.7 L215.3,230.7 L215.9,228.7 L216.4,232.4 L217.0,229.5 L217.5,231.2 L218.1,231.8 L218.6,233.1 L219.2,231.6 L219.7,229.6 L220.3,233.2 L220.8,233.3 L221.4,230.4 L221.9,230.1 L222.5,231.2 L223.0,228.5 L223.6,236.1 L224.1,232.4 L224.7,228.5 L225.2,231.7 L225.8,231.7 L226.3,229.7 L226.9,229.6 L227.4,230.7 L228.0,229.4 L228.5,229.9 L229.1,230.1 L229.6,228.8 L230.2,228.4 L230.7,229.5 L231.3,230.1 L231.8,231.0 L232.4,228.7 L232.9,230.6 L233.5,230.0 L234.0,227.9 L234.6,229.1 L235.1,230.3 L235.7,229.4 L236.2,231.0 L236.8,228.3 L237.3,232.5 L237.9,231.1 L238.4,232.5 L239.0,230.3 L239.5,229.8 L240.1,232.3 L240.6,230.0 L241.2,231.1 L241.7,235.1 L242.3,229.1 L242.8,230.8 L243.4,232.9 L243.9,231.3 L244.5,233.2 L245.0,228.4 L245.6,232.1 L246.1,231.0 L246.7,230.7 L247.2,232.9 L247.8,233.1 L248.3,232.2 L248.9,227.7 L249.4,231.4 L250.0,233.9 L250.5,228.7 L251.1,228.2 L251.6,229.6 L252.2,231.5 L252.7,229.5 L253.3,229.3 L253.8,230.7 L254.4,234.6 L254.9,233.7 L255.5,230.4 L256.0,234.4 L256.6,230.4 L257.1,232.1 L257.7,229.3 L258.2,232.9 L258.8,233.8 L259.3,230.8 L259.9,234.2 L260.4,230.5 L261.0,233.3 L261.5,234.1 L262.1,232.9 L262.6,233.5 L263.2,233.5 L263.7,231.2 L264.3,229.8 L264.8,226.6 L265.4,230.8 L265.9,231.3 L266.5,230.6 L267.0,232.8 L267.6,228.6 L268.1,230.3 L268.7,234.9 L269.2,230.6 L269.8,231.8 L270.3,228.5 L270.9,227.1 L271.4,230.2 L272.0,230.7 L272.5,230.9 L273.1,229.2 L273.6,229.1 L274.2,227.1 L274.7,229.8 L275.3,230.2 L275.8,230.7 L276.4,230.1 L276.9,231.0 L277.5,227.1 L278.0,230.5 L278.6,230.9 L279.1,234.0 L279.7,232.6 L280.2,229.8 L280.8,232.8 L281.3,227.6 L281.9,230.3 L282.4,230.3 L283.0,233.5 L283.5,227.6 L284.1,229.7 L284.6,231.2 L285.2,231.8 L285.7,229.7 L286.3,231.3 L286.8,226.8 L287.4,225.7 L287.9,229.3 L288.5,230.8 L289.0,232.4 L289.6,231.5 L290.1,227.6 L290.7,229.6 L291.2,228.8 L291.8,234.3 L292.3,227.8 L292.9,227.4 L293.4,229.6 L294.0,230.9 L294.5,236.4 L295.1,232.8 L295.6,232.2 L296.2,231.1 L296.7,232.0 L297.3,230.3 L297.8,232.0 L298.4,232.2 L298.9,230.0 L299.5,231.4 L300.0,232.8 L300.6,232.3 L301.1,230.8 L301.7,231.7 L302.2,232.7 L302.8,230.3 L303.3,230.2 L303.9,230.2 L304.4,232.8 L305.0,230.2 L305.5,234.1 L306.1,230.2 L306.6,232.8 L307.2,228.1 L307.7,225.5 L308.3,232.3 L308.8,231.1 L309.4,228.8 L309.9,227.9 L310.5,231.6 L311.0,229.4 L311.6,232.0 L312.1,228.6 L312.7,231.4 L313.2,230.1 L313.8,231.6 L314.3,231.7 L314.9,229.2 L315.4,234.1 L316.0,229.0 L316.5,235.3 L317.1,232.6 L317.6,231.4 L318.2,227.5 L318.7,231.3 L319.3,230.3 L319.8,230.9 L320.4,234.5 L320.9,230.2 L321.5,230.9 L322.0,229.6 L322.6,232.7 L323.1,232.1 L323.7,233.1 L324.2,231.5 L324.8,234.7 L325.3,233.2 L325.9,231.7 L326.4,232.9 L327.0,231.2 L327.5,231.3 L328.1,230.8 L328.6,230.6 L329.2,229.8 L329.7,230.5 L330.3,229.5 L330.8,229.0 L331.4,229.3 L331.9,227.1 L332.5,230.6 L333.0,232.7 L333.6,232.7 L334.1,233.3 L334.7,225.8 L335.2,231.0 L335.8,232.7 L336.3,233.7 L336.9,230.7 L337.4,233.0 L338.0,234.4 L338.5,232.7 L339.1,230.1 L339.6,230.4 L340.2,233.3 L340.7,233.6 L341.3,230.8 L341.8,233.9 L342.4,231.4 L342.9,231.8 L343.5,234.0 L344.0,232.9 L344.6,232.0 L345.1,230.9 L345.7,232.8 L346.2,237.6 L346.8,231.5 L347.3,232.2 L347.9,229.4 L348.4,234.0 L349.0,231.8 L349.5,233.1 L350.1,232.7 L350.6,233.0 L351.2,234.1 L351.7,233.4 L352.3,233.1 L352.8,233.8 L353.4,235.3 L353.9,235.0 L354.5,233.5 L355.0,233.2 L355.6,235.5 L356.1,232.1 L356.7,233.8 L357.2,236.6 L357.8,234.3 L358.3,233.2 L358.9,230.4 L359.4,232.1 L360.0,233.6 L360.5,233.3 L361.1,232.4 L361.6,233.4 L362.2,233.9 L362.7,232.0 L363.3,230.6 L363.8,231.2 L364.4,229.8 L364.9,236.5 L365.5,231.1 L366.0,228.8 L366.6,234.4 L367.1,232.7 L367.7,230.6 L368.2,230.7 L368.8,234.3 L369.3,232.7 L369.9,232.7 L370.4,232.6 L371.0,230.5 L371.5,236.5 L372.1,234.3 L372.6,234.1 L373.2,235.2 L373.7,234.7 L374.3,237.6 L374.8,238.1 L375.4,235.4 L375.9,237.2 L376.5,236.3 L377.0,237.6 L377.6,236.7 L378.1,236.9 L378.7,235.7 L379.2,237.2 L379.8,234.2 L380.3,238.3 L380.9,236.7 L381.4,235.5 L382.0,237.9 L382.5,236.3 L383.1,237.7 L383.6,240.1 L384.2,235.0 L384.7,239.1 L385.3,237.2 L385.8,236.7 L386.4,235.3 L386.9,239.1 L387.5,237.5 L388.0,238.0 L388.6,237.1 L389.1,237.6 L389.7,234.9 L390.2,238.2 L390.8,237.5 L391.3,239.7 L391.9,238.7 L392.4,239.6 L393.0,242.1 L393.5,239.6 L394.1,239.4 L394.6,241.0 L395.2,240.6 L395.7,240.9 L396.3,242.7 L396.8,242.9 L397.4,241.9 L397.9,242.7 L398.5,241.9 L399.0,244.8 L399.6,244.0 L400.1,244.3 L400.7,248.3 L401.2,244.8 L401.8,244.6 L402.3,247.4 L402.9,247.0 L403.4,247.3 L404.0,247.2 L404.5,248.4 L405.1,251.5 L405.6,248.0 L406.2,248.8 L406.7,251.7 L407.3,251.8 L407.8,253.9 L408.4,254.4 L408.9,257.9 L409.5,260.1 L410.0,262.3 L410.6,263.7 L411.1,263.4 L411.7,265.4 L412.2,268.2 L412.8,268.0 L413.3,269.9 L413.9,270.8 L414.4,274.7 L415.0,274.7 L415.5,279.8 L416.1,281.5 L416.6,282.5 L417.2,286.0 L417.7,285.3 L418.3,290.1 L418.8,288.6 L419.4,287.8 L419.9,286.8 L420.5,287.6 L421.0,289.4 L421.6,288.9 L422.1,290.6 L422.7,292.8 L423.2,293.2 L423.8,292.7 L424.3,293.5 L424.9,296.4 L425.4,293.3 L426.0,294.0 L426.5,294.1 L427.1,295.4 L427.6,295.3 L428.2,297.3 L428.7,295.0 L429.3,297.3 L429.8,296.5 L430.4,298.0 L430.9,296.1 L431.5,296.6 L432.0,296.9 L432.6,296.0 L433.1,297.1 L433.7,298.9 L434.2,298.5 L434.8,300.5 L435.3,299.7 L435.9,299.5 L436.4,298.5 L437.0,299.7 L437.5,298.7 L438.1,299.5 L438.6,300.4" stroke="#800000"/>
<path d="M107.5,218.0 L108.0,220.5 L108.6,216.2 L109.1,218.0 L109.7,221.6 L110.2,221.0 L110.8,219.6 L111.3,220.6 L111.9,221.1 L112.4,220.0 L113.0,221.7 L113.5,221.0 L114.1,219.8 L114.6,219.9 L115.2,221.0 L115.7,222.3 L116.3,218.8 L116.8,218.4 L117.4,219.3 L117.9,218.1 L118.5,217.5 L119.0,218.2 L119.6,218.3 L120.1,217.8 L120.7,218.6 L121.2,221.6 L121.8,218.3 L122.3,217.4 L122.9,218.8 L123.4,219.3 L124.0,216.5 L124.5,216.0 L125.1,217.1 L125.6,221.6 L126.2,217.7 L126.7,219.4 L127.3,220.5 L127.8,219.8 L128.4,220.0 L128.9,221.2 L129.5,219.8 L130.0,221.8 L130.6,223.7 L131.1,224.5 L131.7,224.8 L132.2,224.2 L132.8,222.7 L133.3,219.5 L133.9,220.6 L134.5,221.1 L135.0,222.1 L135.6,220.4 L136.1,222.1 L136.7,218.7 L137.2,220.1 L137.8,222.2 L138.3,220.9 L138.9,223.9 L139.4,219.4 L140.0,220.9 L140.5,221.9 L141.1,224.0 L141.6,221.2 L142.2,221.8 L142.7,222.2 L143.3,222.3 L143.8,218.9 L144.4,222.7 L144.9,222.4 L145.5,220.2 L146.0,220.9 L146.6,216.4 L147.1,219.6 L147.7,221.4 L148.2,221.4 L148.8,224.6 L149.3,221.8 L149.9,221.1 L150.4,220.9 L151.0,220.6 L151.5,221.8 L152.1,221.6 L152.6,223.7 L153.2,223.0 L153.7,222.6 L154.3,220.5 L154.8,221.4 L155.4,220.9 L155.9,220.5 L156.5,221.9 L157.0,220.1 L157.6,224.6 L158.1,218.9 L158.7,220.4 L159.2,219.0 L159.8,219.9 L160.3,223.3 L160.9,220.6 L161.4,221.5 L162.0,221.0 L162.5,220.0 L163.1,216.4 L163.6,221.7 L164.2,221.1 L164.7,222.2 L165.3,219.3 L165.8,218.3 L166.4,219.9 L166.9,215.8 L167.5,217.8 L168.0,218.8 L168.6,220.0 L169.1,221.5 L169.7,220.2 L170.2,221.7 L170.8,223.3 L171.3,222.5 L171.9,222.4 L172.4,223.5 L173.0,221.1 L173.5,219.4 L174.1,222.3 L174.6,221.3 L175.2,221.1 L175.7,220.7 L176.3,219.1 L176.8,220.3 L177.4,221.9 L177.9,220.3 L178.5,216.9 L179.0,219.9 L179.6,221.2 L180.1,222.8 L180.7,222.6 L181.2,225.1 L181.8,222.2 L182.3,222.3 L182.9,223.5 L183.4,222.4 L184.0,220.9 L184.5,222.4 L185.1,224.9 L185.6,221.4 L186.2,219.6 L186.7,221.5 L187.3,225.2 L187.8,222.1 L188.4,222.5 L188.9,224.2 L189.5,225.6 L190.0,224.9 L190.6,223.3 L191.1,223.4 L191.7,221.7 L192.2,222.5 L192.8,220.8 L193.3,220.6 L193.9,222.0 L194.4,225.4 L195.0,221.9 L195.5,223.2 L196.1,224.5 L196.6,222.4 L197.2,221.7 L197.7,221.4 L198.3,218.3 L198.8,221.2 L199.4,221.7 L199.9,220.4 L200.5,217.1 L201.0,218.6 L201.6,219.3 L202.1,222.0 L202.7,223.1 L203.2,221.5 L203.8,220.9 L204.3,217.1 L204.9,216.9 L205.4,218.1 L206.0,220.0 L206.5,218.8 L207.1,224.6 L207.6,217.1 L208.2,219.6 L208.7,215.5 L209.3,215.5 L209.8,220.6 L210.4,223.1 L210.9,220.5 L211.5,220.1 L212.0,220.3 L212.6,222.9 L213.1,220.4 L213.7,219.7 L214.2,224.1 L214.8,219.0 L215.3,218.3 L215.9,219.2 L216.4,222.0 L217.0,220.1 L217.5,217.4 L218.1,221.4 L218.6,222.2 L219.2,221.5 L219.7,221.5 L220.3,218.0 L220.8,223.2 L221.4,217.8 L221.9,219.2 L222.5,218.7 L223.0,220.1 L223.6,221.4 L224.1,218.1 L224.7,221.6 L225.2,220.7 L225.8,223.1 L226.3,221.3 L226.9,219.5 L227.4,221.0 L228.0,222.2 L228.5,224.6 L229.1,221.0 L229.6,221.6 L230.2,223.1 L230.7,217.7 L231.3,221.5 L231.8,222.7 L232.4,224.9 L232.9,224.8 L233.5,226.5 L234.0,219.2 L234.6,219.5 L235.1,221.9 L235.7,218.8 L236.2,220.6 L236.8,223.1 L237.3,220.8 L237.9,220.8 L238.4,222.7 L239.0,222.3 L239.5,220.5 L240.1,217.9 L240.6,222.8 L241.2,220.4 L241.7,220.6 L242.3,221.3 L242.8,222.3 L243.4,222.8 L243.9,220.8 L244.5,218.8 L245.0,223.2 L245.6,221.7 L246.1,221.1 L246.7,221.2 L247.2,222.0 L247.8,224.0 L248.3,222.8 L248.9,223.1 L249.4,222.6 L250.0,221.1 L250.5,223.2 L251.1,221.2 L251.6,220.1 L252.2,218.7 L252.7,222.7 L253.3,222.0 L253.8,221.3 L254.4,219.6 L254.9,220.2 L255.5,221.1 L256.0,222.0 L256.6,221.6 L257.1,222.2 L257.7,222.6 L258.2,219.7 L258.8,219.8 L259.3,220.9 L259.9,221.9 L260.4,222.7 L261.0,219.5 L261.5,221.6 L262.1,221.7 L262.6,219.4 L263.2,220.0 L263.7,221.7 L264.3,223.7 L264.8,223.5 L265.4,220.9 L265.9,221.1 L266.5,221.9 L267.0,221.3 L267.6,222.8 L268.1,222.2 L268.7,223.0 L269.2,219.0 L269.8,221.1 L270.3,219.5 L270.9,223.8 L271.4,223.8 L272.0,225.9 L272.5,221.3 L273.1,220.7 L273.6,218.6 L274.2,223.3 L274.7,224.9 L275.3,222.5 L275.8,224.4 L276.4,222.4 L276.9,223.1 L277.5,221.4 L278.0,220.2 L278.6,224.4 L279.1,218.9 L279.7,221.9 L280.2,225.3 L280.8,223.1 L281.3,217.5 L281.9,222.4 L282.4,224.5 L283.0,225.2 L283.5,221.9 L284.1,218.6 L284.6,219.4 L285.2,218.8 L285.7,220.9 L286.3,220.9 L286.8,222.7 L287.4,222.0 L287.9,222.9 L288.5,222.3 L289.0,223.1 L289.6,223.2 L290.1,225.3 L290.7,222.1 L291.2,220.0 L291.8,220.0 L292.3,221.5 L292.9,224.0 L293.4,219.2 L294.0,217.3 L294.5,222.9 L295.1,219.0 L295.6,221.1 L296.2,219.7 L296.7,218.5 L297.3,221.0 L297.8,217.0 L298.4,221.1 L298.9,218.5 L299.5,219.2 L300.0,221.7 L300.6,221.0 L301.1,220.9 L301.7,221.6 L302.2,222.7 L302.8,223.4 L303.3,220.7 L303.9,223.3 L304.4,221.4 L305.0,220.8 L305.5,222.5 L306.1,219.2 L306.6,222.0 L307.2,223.3 L307.7,222.3 L308.3,221.9 L308.8,224.0 L309.4,221.1 L309.9,222.9 L310.5,225.4 L311.0,222.8 L311.6,219.0 L312.1,221.4 L312.7,221.5 L313.2,224.8 L313.8,221.8 L314.3,217.8 L314.9,219.9 L315.4,221.3 L316.0,224.2 L316.5,222.0 L317.1,219.0 L317.6,218.6 L318.2,219.6 L318.7,220.4 L319.3,222.6 L319.8,220.8 L320.4,220.5 L320.9,221.1 L321.5,219.8 L322.0,223.9 L322.6,222.2 L323.1,220.6 L323.7,219.8 L324.2,220.8 L324.8,222.5 L325.3,222.7 L325.9,222.1 L326.4,220.0 L327.0,221.2 L327.5,221.5 L328.1,220.9 L328.6,217.5 L329.2,217.9 L329.7,220.4 L330.3,222.4 L330.8,218.3 L331.4,220.8 L331.9,221.3 L332.5,216.3 L333.0,220.9 L333.6,220.1 L334.1,221.8 L334.7,216.7 L335.2,222.1 L335.8,218.9 L336.3,220.6 L336.9,220.9 L337.4,221.6 L338.0,220.7 L338.5,216.0 L339.1,219.1 L339.6,219.5 L340.2,219.9 L340.7,223.6 L341.3,223.2 L341.8,220.7 L342.4,220.8 L342.9,220.7 L343.5,221.0 L344.0,218.7 L344.6,223.4 L345.1,220.3 L345.7,218.3 L346.2,216.3 L346.8,221.0 L347.3,220.8 L347.9,223.2 L348.4,221.6 L349.0,221.1 L349.5,223.2 L350.1,222.2 L350.6,221.2 L351.2,222.6 L351.7,223.6 L352.3,223.1 L352.8,223.1 L353.4,225.3 L353.9,225.0 L354.5,221.6 L355.0,221.9 L355.6,223.8 L356.1,221.8 L356.7,225.9 L357.2,221.2 L357.8,220.0 L358.3,219.7 L358.9,222.6 L359.4,223.5 L360.0,224.4 L360.5,223.8 L361.1,224.1 L361.6,223.6 L362.2,223.1 L362.7,223.5 L363.3,222.0 L363.8,224.2 L364.4,223.9 L364.9,224.4 L365.5,225.4 L366.0,223.4 L366.6,221.8 L367.1,224.4 L367.7,222.6 L368.2,223.1 L368.8,224.1 L369.3,225.0 L369.9,226.2 L370.4,224.8 L371.0,223.7 L371.5,225.3 L372.1,224.6 L372.6,223.8 L373.2,225.4 L373.7,222.7 L374.3,223.9 L374.8,223.7 L375.4,226.8 L375.9,225.0 L376.5,223.7 L377.0,225.2 L377.6,219.7 L378.1,222.0 L378.7,225.2 L379.2,221.1 L379.8,222.7 L380.3,220.5 L380.9,223.1 L381.4,223.1 L382.0,224.4 L382.5,223.4 L383.1,223.5 L383.6,218.6 L384.2,222.9 L384.7,225.5 L385.3,219.7 L385.8,221.9 L386.4,225.6 L386.9,223.9 L387.5,221.3 L388.0,220.6 L388.6,221.6 L389.1,226.1 L389.7,222.7 L390.2,225.3 L390.8,227.2 L391.3,224.6 L391.9,224.1 L392.4,222.2 L393.0,223.8 L393.5,227.7 L394.1,227.1 L394.6,225.1 L395.2,224.2 L395.7,223.7 L396.3,225.5 L396.8,228.0 L397.4,230.8 L397.9,229.3 L398.5,223.2 L399.0,223.5 L399.6,223.5 L400.1,226.6 L400.7,226.8 L401.2,225.9 L401.8,224.7 L402.3,228.6 L402.9,228.3 L403.4,225.1 L404.0,227.2 L404.5,225.4 L405.1,227.7 L405.6,226.6 L406.2,229.6 L406.7,229.0 L407.3,232.1 L407.8,228.4 L408.4,228.8 L408.9,230.0 L409.5,226.8 L410.0,229.0 L410.6,230.3 L411.1,227.0 L411.7,229.2 L412.2,229.1 L412.8,229.8 L413.3,230.6 L413.9,231.3 L414.4,231.6 L415.0,231.1 L415.5,233.3 L416.1,233.6 L416.6,235.2 L417.2,234.6 L417.7,236.3 L418.3,237.4 L418.8,236.9 L419.4,240.4 L419.9,241.2 L420.5,240.9 L421.0,242.2 L421.6,242.1 L422.1,241.3 L422.7,246.8 L423.2,246.1 L423.8,247.5 L424.3,247.6 L424.9,249.8 L425.4,249.8 L426.0,253.3 L426.5,251.8 L427.1,250.2 L427.6,253.7 L428.2,255.6 L428.7,257.4 L429.3,259.5 L429.8,260.0 L430.4,262.3 L430.9,261.7 L431.5,263.6 L432.0,265.1 L432.6,263.1 L433.1,268.5 L433.7,265.7 L434.2,268.3 L434.8,269.7 L435.3,269.2 L435.9,271.9 L436.4,272.2 L437.0,271.0 L437.5,274.6 L438.1,274.9 L438.6,276.8" stroke="#008000"/>
<path d="M107.5,213.5 L108.0,214.9 L108.6,211.7 L109.1,211.0 L109.7,210.6 L110.2,212.4 L110.8,211.4 L111.3,209.7 L111.9,209.6 L112.4,208.3 L113.0,212.0 L113.5,209.2 L114.1,211.1 L114.6,214.6 L115.2,212.9 L115.7,212.2 L116.3,210.7 L116.8,213.8 L117.4,210.7 L117.9,213.0 L118.5,214.1 L119.0,215.6 L119.6,214.1 L120.1,212.7 L120.7,215.0 L121.2,211.9 L121.8,213.2 L122.3,210.9 L122.9,211.5 L123.4,211.6 L124.0,216.1 L124.5,211.6 L125.1,208.0 L125.6,208.4 L126.2,216.7 L126.7,214.6 L127.3,211.6 L127.8,209.6 L128.4,211.6 L128.9,206.1 L129.5,209.4 L130.0,210.3 L130.6,212.4 L131.1,208.7 L131.7,211.4 L132.2,214.6 L132.8,213.2 L133.3,211.3 L133.9,209.1 L134.5,211.7 L135.0,211.8 L135.6,214.4 L136.1,210.4 L136.7,209.5 L137.2,208.8 L137.8,211.2 L138.3,213.2 L138.9,211.5 L139.4,206.0 L140.0,209.6 L140.5,210.5 L141.1,212.3 L141.6,209.7 L142.2,210.0 L142.7,210.6 L143.3,211.7 L143.8,210.9 L144.4,210.5 L144.9,210.6 L145.5,213.0 L146.0,213.8 L146.6,211.7 L147.1,208.5 L147.7,209.1 L148.2,208.9 L148.8,212.9 L149.3,213.6 L149.9,210.3 L150.4,210.3 L151.0,211.9 L151.5,210.2 L152.1,210.7 L152.6,210.5 L153.2,210.6 L153.7,209.1 L154.3,212.1 L154.8,212.5 L155.4,209.1 L155.9,210.7 L156.5,209.4 L157.0,211.0 L157.6,211.7 L158.1,212.0 L158.7,211.6 L159.2,210.9 L159.8,213.5 L160.3,211.4 L160.9,213.2 L161.4,212.6 L162.0,214.5 L162.5,210.1 L163.1,215.4 L163.6,211.6 L164.2,213.4 L164.7,214.1 L165.3,213.9 L165.8,213.0 L166.4,209.4 L166.9,211.8 L167.5,210.7 L168.0,212.4 L168.6,211.8 L169.1,212.5 L169.7,213.1 L170.2,212.7 L170.8,213.9 L171.3,212.7 L171.9,213.7 L172.4,213.8 L173.0,210.6 L173.5,211.0 L174.1,216.0 L174.6,213.6 L175.2,214.4 L175.7,213.1 L176.3,208.4 L176.8,214.6 L177.4,215.7 L177.9,211.6 L178.5,212.3 L179.0,210.0 L179.6,209.7 L180.1,207.0 L180.7,207.6 L181.2,212.6 L181.8,212.3 L182.3,211.4 L182.9,213.2 L183.4,213.9 L184.0,212.7 L184.5,210.9 L185.1,210.0 L185.6,211.3 L186.2,210.8 L186.7,212.2 L187.3,209.4 L187.8,208.3 L188.4,211.2 L188.9,212.6 L189.5,210.5 L190.0,207.7 L190.6,211.0 L191.1,208.6 L191.7,212.8 L192.2,210.9 L192.8,208.1 L193.3,209.7 L193.9,208.1 L194.4,211.5 L195.0,213.2 L195.5,213.0 L196.1,208.8 L196.6,211.3 L197.2,210.5 L197.7,212.0 L198.3,213.1 L198.8,213.9 L199.4,212.4 L199.9,211.5 L200.5,213.9 L201.0,212.4 L201.6,214.3 L202.1,213.0 L202.7,211.4 L203.2,208.9 L203.8,213.0 L204.3,213.8 L204.9,213.1 L205.4,214.2 L206.0,213.5 L206.5,216.0 L207.1,211.2 L207.6,213.3 L208.2,212.4 L208.7,211.9 L209.3,213.4 L209.8,212.3 L210.4,208.5 L210.9,210.7 L211.5,213.2 L212.0,209.4 L212.6,209.0 L213.1,212.8 L213.7,212.3 L214.2,209.4 L214.8,211.6 L215.3,214.1 L215.9,211.6 L216.4,212.4 L217.0,211.1 L217.5,213.8 L218.1,211.9 L218.6,212.9 L219.2,212.2 L219.7,209.0 L220.3,211.8 L220.8,212.4 L221.4,213.3 L221.9,212.7 L222.5,209.2 L223.0,210.2 L223.6,211.1 L224.1,212.2 L224.7,212.0 L225.2,211.0 L225.8,212.4 L226.3,209.7 L226.9,208.9 L227.4,206.1 L228.0,208.8 L228.5,211.7 L229.1,210.7 L229.6,210.7 L230.2,212.1 L230.7,210.4 L231.3,210.5 L231.8,210.6 L232.4,209.3 L232.9,210.3 L233.5,211.3 L234.0,212.7 L234.6,213.9 L235.1,211.2 L235.7,210.5 L236.2,209.4 L236.8,211.8 L237.3,213.3 L237.9,214.0 L238.4,211.4 L239.0,210.2 L239.5,209.5 L240.1,208.3 L240.6,208.8 L241.2,210.1 L241.7,213.8 L242.3,212.9 L242.8,207.3 L243.4,208.8 L243.9,211.6 L244.5,213.0 L245.0,214.5 L245.6,209.9 L246.1,213.2 L246.7,214.3 L247.2,213.1 L247.8,210.4 L248.3,208.6 L248.9,211.7 L249.4,211.1 L250.0,210.1 L250.5,211.1 L251.1,211.2 L251.6,212.1 L252.2,212.6 L252.7,212.4 L253.3,208.4 L253.8,211.4 L254.4,213.3 L254.9,211.9 L255.5,210.4 L256.0,210.6 L256.6,215.3 L257.1,211.6 L257.7,209.9 L258.2,211.9 L258.8,210.2 L259.3,210.5 L259.9,212.7 L260.4,214.1 L261.0,213.9 L261.5,212.5 L262.1,214.7 L262.6,212.0 L263.2,210.8 L263.7,211.9 L264.3,211.8 L264.8,209.1 L265.4,210.8 L265.9,212.0 L266.5,211.0 L267.0,211.6 L267.6,208.8 L268.1,209.0 L268.7,206.9 L269.2,210.7 L269.8,214.3 L270.3,211.3 L270.9,211.9 L271.4,208.9 L272.0,209.8 L272.5,211.9 L273.1,207.9 L273.6,210.9 L274.2,212.7 L274.7,210.5 L275.3,213.8 L275.8,210.6 L276.4,214.3 L276.9,209.7 L277.5,209.8 L278.0,209.3 L278.6,210.2 L279.1,212.0 L279.7,211.6 L280.2,211.9 L280.8,211.6 L281.3,213.2 L281.9,211.6 L282.4,210.0 L283.0,212.7 L283.5,207.0 L284.1,210.8 L284.6,212.5 L285.2,213.4 L285.7,211.4 L286.3,212.5 L286.8,213.6 L287.4,209.7 L287.9,211.5 L288.5,210.8 L289.0,210.8 L289.6,213.3 L290.1,210.6 L290.7,211.1 L291.2,209.0 L291.8,213.8 L292.3,211.6 L292.9,214.6 L293.4,216.1 L294.0,212.4 L294.5,212.3 L295.1,213.1 L295.6,214.3 L296.2,212.9 L296.7,213.0 L297.3,211.5 L297.8,216.6 L298.4,214.9 L298.9,214.3 L299.5,211.8 L300.0,210.4 L300.6,214.0 L301.1,213.4 L301.7,214.4 L302.2,213.9 L302.8,212.3 L303.3,213.8 L303.9,213.6 L304.4,215.9 L305.0,211.8 L305.5,214.0 L306.1,214.0 L306.6,212.0 L307.2,209.8 L307.7,216.7 L308.3,209.9 L308.8,209.8 L309.4,211.3 L309.9,210.6 L310.5,213.6 L311.0,209.6 L311.6,209.0 L312.1,210.8 L312.7,208.2 L313.2,206.6 L313.8,211.5 L314.3,210.6 L314.9,213.2 L315.4,214.6 L316.0,210.5 L316.5,214.3 L317.1,211.0 L317.6,209.0 L318.2,209.2 L318.7,211.3 L319.3,206.7 L319.8,211.8 L320.4,210.0 L320.9,211.1 L321.5,213.8 L322.0,213.8 L322.6,211.0 L323.1,211.8 L323.7,210.7 L324.2,211.8 L324.8,209.4 L325.3,212.2 L325.9,212.6 L326.4,210.4 L327.0,210.3 L327.5,210.4 L328.1,213.3 L328.6,208.3 L329.2,209.6 L329.7,212.8 L330.3,211.5 L330.8,211.7 L331.4,214.0 L331.9,212.6 L332.5,210.2 L333.0,209.3 L333.6,209.2 L334.1,213.4 L334.7,213.3 L335.2,212.8 L335.8,213.0 L336.3,211.1 L336.9,212.8 L337.4,216.7 L338.0,210.6 L338.5,213.6 L339.1,213.1 L339.6,214.3 L340.2,212.3 L340.7,215.1 L341.3,215.2 L341.8,212.2 L342.4,212.3 L342.9,209.7 L343.5,211.9 L344.0,212.1 L344.6,208.7 L345.1,210.3 L345.7,212.8 L346.2,212.7 L346.8,213.9 L347.3,212.4 L347.9,211.0 L348.4,212.5 L349.0,210.2 L349.5,213.2 L350.1,211.5 L350.6,211.8 L351.2,211.9 L351.7,213.2 L352.3,211.6 L352.8,211.0 L353.4,215.1 L353.9,209.7 L354.5,214.2 L355.0,212.1 L355.6,214.3 L356.1,210.8 L356.7,212.7 L357.2,212.7 L357.8,213.5 L358.3,212.2 L358.9,211.5 L359.4,209.7 L360.0,208.7 L360.5,208.2 L361.1,212.8 L361.6,216.2 L362.2,212.1 L362.7,210.6 L363.3,213.4 L363.8,213.1 L364.4,212.4 L364.9,212.4 L365.5,211.2 L366.0,210.5 L366.6,209.5 L367.1,210.6 L367.7,210.8 L368.2,214.1 L368.8,211.0 L369.3,211.3 L369.9,213.9 L370.4,212.5 L371.0,214.5 L371.5,212.6 L372.1,210.0 L372.6,212.3 L373.2,215.0 L373.7,212.5 L374.3,210.9 L374.8,214.1 L375.4,213.3 L375.9,207.4 L376.5,210.8 L377.0,209.4 L377.6,213.6 L378.1,216.7 L378.7,213.2 L379.2,215.2 L379.8,212.9 L380.3,213.5 L380.9,213.2 L381.4,214.1 L382.0,211.9 L382.5,211.9 L383.1,215.2 L383.6,212.6 L384.2,213.9 L384.7,212.0 L385.3,208.8 L385.8,210.7 L386.4,214.0 L386.9,211.2 L387.5,212.0 L388.0,210.5 L388.6,212.3 L389.1,214.7 L389.7,213.4 L390.2,213.1 L390.8,213.6 L391.3,215.3 L391.9,210.2 L392.4,211.6 L393.0,211.7 L393.5,214.7 L394.1,212.8 L394.6,212.9 L395.2,211.7 L395.7,212.9 L396.3,210.5 L396.8,216.1 L397.4,210.4 L397.9,212.4 L398.5,210.9 L399.0,211.7 L399.6,213.0 L400.1,208.1 L400.7,212.1 L401.2,213.2 L401.8,209.9 L402.3,211.1 L402.9,210.3 L403.4,212.8 L404.0,209.6 L404.5,210.3 L405.1,209.7 L405.6,211.0 L406.2,211.1 L406.7,207.6 L407.3,214.1 L407.8,210.2 L408.4,210.5 L408.9,213.2 L409.5,212.4 L410.0,212.7 L410.6,212.5 L411.1,212.9 L411.7,208.3 L412.2,212.1 L412.8,213.2 L413.3,211.7 L413.9,211.3 L414.4,212.2 L415.0,210.4 L415.5,213.9 L416.1,212.4 L416.6,213.5 L417.2,212.6 L417.7,212.9 L418.3,212.0 L418.8,212.7 L419.4,211.2 L419.9,215.1 L420.5,216.6 L421.0,212.2 L421.6,214.7 L422.1,215.7 L422.7,213.4 L423.2,214.1 L423.8,214.0 L424.3,213.4 L424.9,213.8 L425.4,210.7 L426.0,211.6 L426.5,212.1 L427.1,211.8 L427.6,215.2 L428.2,213.5 L428.7,213.6 L429.3,213.7 L429.8,212.6 L430.4,213.0 L430.9,215.0 L431.5,211.9 L432.0,213.5 L432.6,212.6 L433.1,210.7 L433.7,214.6 L434.2,214.3 L434.8,214.4 L435.3,214.7 L435.9,214.7 L436.4,210.3 L437.0,210.4 L437.5,211.5 L438.1,213.1 L438.6,210.3" stroke="#008080"/>
</g>
<rect x="107.5" y="187.4" width="331.3" height="219.2" fill="none" stroke="#0a0a0a" stroke-width="1.35"/>
<path d="M107.5,187.5 v4.2 M107.5,406.5 v-4.2 M140.6,187.5 v2.2 M140.6,406.5 v-2.2 M173.8,187.5 v4.2 M173.8,406.5 v-4.2 M206.9,187.5 v2.2 M206.9,406.5 v-2.2 M240.0,187.5 v4.2 M240.0,406.5 v-4.2 M273.1,187.5 v2.2 M273.1,406.5 v-2.2 M306.3,187.5 v4.2 M306.3,406.5 v-4.2 M339.4,187.5 v2.2 M339.4,406.5 v-2.2 M372.5,187.5 v4.2 M372.5,406.5 v-4.2 M405.7,187.5 v2.2 M405.7,406.5 v-2.2 M438.8,187.5 v4.2 M438.8,406.5 v-4.2 M107.5,187.5 h2.2 M438.8,187.5 h-2.2 M107.5,201.2 h4.2 M438.8,201.2 h-4.2 M107.5,214.9 h2.2 M438.8,214.9 h-2.2 M107.5,228.6 h4.2 M438.8,228.6 h-4.2 M107.5,242.2 h2.2 M438.8,242.2 h-2.2 M107.5,255.9 h4.2 M438.8,255.9 h-4.2 M107.5,269.6 h2.2 M438.8,269.6 h-2.2 M107.5,283.3 h4.2 M438.8,283.3 h-4.2 M107.5,297.0 h2.2 M438.8,297.0 h-2.2 M107.5,310.7 h4.2 M438.8,310.7 h-4.2 M107.5,324.4 h2.2 M438.8,324.4 h-2.2 M107.5,338.1 h4.2 M438.8,338.1 h-4.2 M107.5,351.8 h2.2 M438.8,351.8 h-2.2 M107.5,365.4 h4.2 M438.8,365.4 h-4.2 M107.5,379.1 h2.2 M438.8,379.1 h-2.2 M107.5,392.8 h4.2 M438.8,392.8 h-4.2 M107.5,406.5 h2.2 M438.8,406.5 h-2.2 " stroke="#0a0a0a" stroke-width="1.25" fill="none"/>
<path d="M168.9,401.2 V199" stroke="#000" stroke-width="2.3" fill="none"/>
<path d="M168.9,190.3 L174.2,202.3 H163.6 Z" fill="#000"/>
<text x="177.2" y="202.6" font-family="'Liberation Sans',sans-serif" font-size="17.4" textLength="40.6" lengthAdjust="spacingAndGlyphs">time</text>
<!-- main curve -->
<clipPath id="cp"><rect x="85" y="20.2" width="559" height="413"/></clipPath>
<path clip-path="url(#cp)" d="M86.6,139.0 L87.2,95.0 L88.0,55.0 L90.0,43.0 L91.2,20.0 L92.0,17.0 L93.2,17.0 L94.0,20.0 L95.6,95.0 L97.0,69.0 L97.6,99.0 L99.0,64.0 L101.4,128.6 L104.4,43.0 L106.0,95.0 L108.0,63.0 L109.0,75.0 L110.0,52.0 L112.0,101.0 L113.0,71.0 L114.4,97.0 L115.6,75.0 L117.0,88.0 L119.6,70.0 L122.0,114.4 L125.0,49.0 L127.0,73.0 L128.0,71.0 L129.6,82.0 L132.4,62.0 L133.6,56.0 L135.0,63.0 L136.0,56.0 L138.0,70.0 L139.6,72.0 L141.0,52.0 L143.0,61.0 L146.0,73.0 L148.0,67.0 L149.0,73.0 L151.0,58.0 L153.4,43.0 L156.0,72.0 L157.0,67.0 L158.0,85.0 L159.6,59.0 L160.6,84.0 L162.0,54.0 L164.0,58.0 L166.0,57.0 L168.0,62.0 L169.0,68.0 L171.0,48.0 L171.2,48.1 L175.3,82.0 L178.3,54.8 L179.8,66.9 L182.0,66.1 L183.9,58.6 L186.3,72.2 L187.3,64.6 L189.6,68.4 L191.8,61.6 L193.3,65.4 L195.6,60.9 L197.1,54.1 L197.9,60.1 L199.4,51.1 L200.9,58.6 L202.4,55.6 L203.4,59.4 L204.9,73.7 L206.1,74.4 L207.3,77.4 L209.5,52.6 L210.7,62.4 L212.9,66.1 L214.4,75.2 L216.4,95.5 L218.2,83.5 L219.7,80.5 L221.5,65.4 L223.0,85.0 L224.2,76.7 L226.0,78.2 L228.0,69.9 L229.5,75.2 L232.0,88.7 L233.6,77.4 L235.1,84.2 L236.3,85.0 L238.5,103.8 L239.6,90.2 L240.8,103.8 L242.3,88.0 L243.5,100.0 L244.5,85.0 L246.1,86.5 L247.3,74.4 L248.6,89.5 L249.8,78.2 L252.1,90.2 L253.6,82.0 L255.1,83.5 L256.1,94.8 L257.3,72.9 L258.6,86.5 L260.1,56.4 L262.3,96.5 L263.8,89.7 L265.3,81.4 L266.8,85.9 L268.7,99.5 L270.5,92.0 L272.8,101.0 L274.3,88.2 L275.8,98.0 L276.9,84.4 L278.1,90.5 L279.6,71.6 L281.1,82.2 L283.0,61.8 L284.8,85.2 L287.1,110.0 L289.4,97.2 L291.3,85.2 L292.8,94.2 L293.9,92.7 L294.9,97.2 L296.1,85.9 L297.3,102.5 L298.9,86.7 L299.9,101.0 L301.0,95.7 L302.5,86.7 L304.4,95.7 L305.9,85.2 L307.4,101.0 L308.9,77.7 L310.5,85.2 L312.0,95.0 L312.7,82.9 L315.7,68.6 L317.2,85.9 L319.0,61.8 L320.5,84.4 L322.5,80.7 L324.0,89.7 L325.5,81.4 L326.6,88.2 L328.5,79.2 L330.3,72.4 L332.3,82.2 L334.1,104.0 L336.1,88.2 L337.1,104.8 L338.6,76.9 L340.6,86.7 L342.1,94.2 L344.0,88.2 L345.1,97.2 L346.1,90.5 L348.1,101.0 L350.1,92.7 L351.8,107.0 L353.3,96.5 L354.8,85.2 L356.8,103.3 L358.3,79.2 L359.8,91.2 L361.3,80.7 L363.3,79.9 L365.1,68.6 L366.9,92.7 L368.8,67.1 L370.3,76.1 L371.8,95.0 L372.9,76.9 L374.4,93.5 L376.4,76.1 L377.9,88.2 L378.9,84.4 L380.1,101.0 L381.6,81.4 L383.1,92.7 L383.9,92.0 L385.4,104.0 L386.9,96.5 L388.4,95.0 L389.9,101.7 L391.7,79.9 L393.4,89.7 L394.9,91.2 L395.9,84.4 L398.2,95.7 L399.4,83.7 L400.9,93.5 L402.0,85.9 L403.9,92.7 L404.5,93.5 L406.0,105.5 L408.0,83.7 L409.5,70.9 L410.5,85.2 L412.0,78.4 L413.6,74.6 L415.5,93.5 L417.5,96.5 L418.5,97.2 L419.6,82.2 L421.5,113.8 L423.8,82.2 L426.1,79.9 L427.1,79.2 L428.3,88.2 L429.5,72.4 L430.0,71.5 L431.8,98.6 L433.8,100.1 L435.3,99.4 L437.1,76.0 L439.0,96.4 L440.2,99.4 L442.0,112.2 L443.3,115.9 L445.1,106.9 L446.9,115.9 L449.3,122.7 L450.3,119.7 L451.8,109.2 L452.9,122.0 L453.8,107.7 L455.9,107.7 L457.9,121.2 L459.4,112.2 L460.4,120.5 L462.4,109.9 L464.6,131.0 L466.9,108.4 L468.4,109.2 L470.4,115.9 L472.2,122.7 L473.7,118.9 L475.6,114.4 L477.0,122.0 L477.0,130.0 L478.3,140.8 L480.1,149.3 L481.3,154.1 L482.8,149.3 L483.7,154.1 L484.9,156.5 L486.4,160.7 L487.9,154.7 L489.1,157.7 L490.5,164.9 L492.1,175.8 L493.7,158.9 L495.1,178.2 L496.9,171.6 L498.1,180.6 L499.3,189.6 L499.9,195.8 L500.7,211.5 L501.7,202.5 L503.5,216.3 L504.7,224.2 L506.5,215.7 L507.1,224.8 L508.6,244.0 L509.2,244.8 L510.7,240.0 L513.1,254.5 L514.9,258.1 L516.1,270.1 L517.3,278.6 L518.5,291.8 L519.7,299.6 L520.4,311.9 L521.9,304.0 L523.1,307.0 L524.3,327.5 L526.1,337.2 L527.3,349.2 L529.1,354.6 L529.5,357.2 L530.4,362.0 L531.3,375.3 L533.1,380.1 L534.0,390.4 L535.2,380.7 L536.7,392.2 L537.9,402.7 L539.5,397.9 L541.1,400.5 L542.9,415.8 L544.5,402.7 L546.0,404.2 L547.4,399.5 L548.4,407.9 L549.8,403.7 L551.1,408.4 L552.7,421.6 L553.7,431.6 L555.3,421.6 L556.9,415.3 L557.9,431.6 L559.5,421.6 L561.1,432.2 L562.2,417.4 L563.9,403.7 L565.3,410.0 L566.9,424.8 L568.2,414.2 L569.5,423.7 L571.6,426.4 L574.8,432.2 L576.4,423.7 L578.5,416.4 L581.1,425.8 L583.2,415.3 L584.8,420.6 L586.4,417.4 L589.0,428.0 L591.1,419.5 L592.7,416.4 L594.3,426.9 L595.9,429.0 L598.0,400.5 L599.8,424.8 L601.3,409.0 L603.1,405.3 L604.5,411.1 L606.1,410.0 L607.7,424.8 L609.8,418.5 L611.4,419.5 L612.6,428.0 L614.0,417.4 L615.8,408.4 L617.7,417.4 L620.3,428.0 L621.9,421.6 L623.5,415.3 L625.1,423.7 L627.2,413.2 L629.8,431.6 L631.4,409.0 L633.5,426.9 L635.1,413.2 L636.7,424.8 L638.2,412.1 L639.8,425.8 L641.4,431.6 L642.5,429.5" fill="none" stroke="#000" stroke-width="2.5" stroke-linejoin="round" stroke-linecap="round"/>
<!-- frame -->
<rect x="86" y="20.7" width="556.7" height="409.3" fill="none" stroke="#000" stroke-width="2"/>
<path d="M86.0,20.7 v8.0 M86.0,430.0 v-8.0 M141.7,20.7 v4.5 M141.7,430.0 v-4.5 M197.3,20.7 v8.0 M197.3,430.0 v-8.0 M253.0,20.7 v4.5 M253.0,430.0 v-4.5 M308.7,20.7 v8.0 M308.7,430.0 v-8.0 M364.4,20.7 v4.5 M364.4,430.0 v-4.5 M420.0,20.7 v8.0 M420.0,430.0 v-8.0 M475.7,20.7 v4.5 M475.7,430.0 v-4.5 M531.4,20.7 v8.0 M531.4,430.0 v-8.0 M587.0,20.7 v4.5 M587.0,430.0 v-4.5 M642.7,20.7 v8.0 M642.7,430.0 v-8.0 M86.0,430.0 h8.0 M642.7,430.0 h-8.0 M86.0,395.9 h4.5 M642.7,395.9 h-4.5 M86.0,361.8 h8.0 M642.7,361.8 h-8.0 M86.0,327.7 h4.5 M642.7,327.7 h-4.5 M86.0,293.6 h8.0 M642.7,293.6 h-8.0 M86.0,259.5 h4.5 M642.7,259.5 h-4.5 M86.0,225.3 h8.0 M642.7,225.3 h-8.0 M86.0,191.2 h4.5 M642.7,191.2 h-4.5 M86.0,157.1 h8.0 M642.7,157.1 h-8.0 M86.0,123.0 h4.5 M642.7,123.0 h-4.5 M86.0,88.9 h8.0 M642.7,88.9 h-8.0 M86.0,54.8 h4.5 M642.7,54.8 h-4.5 M86.0,20.7 h8.0 M642.7,20.7 h-8.0 " stroke="#000" stroke-width="1.8" fill="none"/>
<!-- red steps -->
<path d="M645.8,105.6 H454.4 V430 M645.8,122.8 H476.4 V430 M645.8,157.4 H489.5 V430 M645.8,191.3 H498.6 V430 M645.8,225.5 H506.4 V430 M645.8,259.5 H514.0 V430 M645.8,293.7 H518.2 V430 M645.8,327.7 H524.0 V430 M645.8,361.8 H529.4 V430 M645.8,396.0 H535.8 V430 M645.8,413.0 H550.3 V430 " fill="none" stroke="#ff0000" stroke-width="2.2"/>
<text transform="translate(80.5,438.0) scale(1,1.170)" text-anchor="end" font-family="'Liberation Serif',serif" font-weight="bold" font-size="25.8" stroke="#000" stroke-width="0.45" letter-spacing="-0.35">0.0</text>
<text transform="translate(80.5,369.8) scale(1,1.170)" text-anchor="end" font-family="'Liberation Serif',serif" font-weight="bold" font-size="25.8" stroke="#000" stroke-width="0.45" letter-spacing="-0.35">0.2</text>
<text transform="translate(80.5,301.6) scale(1,1.170)" text-anchor="end" font-family="'Liberation Serif',serif" font-weight="bold" font-size="25.8" stroke="#000" stroke-width="0.45" letter-spacing="-0.35">0.4</text>
<text transform="translate(80.5,233.3) scale(1,1.170)" text-anchor="end" font-family="'Liberation Serif',serif" font-weight="bold" font-size="25.8" stroke="#000" stroke-width="0.45" letter-spacing="-0.35">0.6</text>
<text transform="translate(80.5,165.1) scale(1,1.170)" text-anchor="end" font-family="'Liberation Serif',serif" font-weight="bold" font-size="25.8" stroke="#000" stroke-width="0.45" letter-spacing="-0.35">0.8</text>
<text transform="translate(80.5,96.9) scale(1,1.170)" text-anchor="end" font-family="'Liberation Serif',serif" font-weight="bold" font-size="25.8" stroke="#000" stroke-width="0.45" letter-spacing="-0.35">1.0</text>
<text transform="translate(80.5,28.7) scale(1,1.170)" text-anchor="end" font-family="'Liberation Serif',serif" font-weight="bold" font-size="25.8" stroke="#000" stroke-width="0.45" letter-spacing="-0.35">1.2</text>
<text transform="translate(86.6,454.9) scale(1,1.120)" text-anchor="middle" font-family="'Liberation Serif',serif" font-weight="bold" font-size="27.0" stroke="#000" stroke-width="0.45" letter-spacing="-0.35">0</text>
<text transform="translate(197.9,454.9) scale(1,1.120)" text-anchor="middle" font-family="'Liberation Serif',serif" font-weight="bold" font-size="27.0" stroke="#000" stroke-width="0.45" letter-spacing="-0.35">3</text>
<text transform="translate(309.3,454.9) scale(1,1.120)" text-anchor="middle" font-family="'Liberation Serif',serif" font-weight="bold" font-size="27.0" stroke="#000" stroke-width="0.45" letter-spacing="-0.35">6</text>
<text transform="translate(420.6,454.9) scale(1,1.120)" text-anchor="middle" font-family="'Liberation Serif',serif" font-weight="bold" font-size="27.0" stroke="#000" stroke-width="0.45" letter-spacing="-0.35">9</text>
<text transform="translate(532.0,454.9) scale(1,1.120)" text-anchor="middle" font-family="'Liberation Serif',serif" font-weight="bold" font-size="27.0" stroke="#000" stroke-width="0.45" letter-spacing="-0.35">12</text>
<text transform="translate(643.3,454.9) scale(1,1.120)" text-anchor="middle" font-family="'Liberation Serif',serif" font-weight="bold" font-size="27.0" stroke="#000" stroke-width="0.45" letter-spacing="-0.35">15</text>

<!-- x label -->
<g class="thin" font-family="'Liberation Sans',sans-serif" font-size="30">
<text x="80.6" y="487.6" textLength="136" lengthAdjust="spacingAndGlyphs">sample’s</text>
<text x="229.3" y="487.6" textLength="66.5" lengthAdjust="spacingAndGlyphs">long</text>
<text x="309.8" y="487.6" textLength="58.4" lengthAdjust="spacingAndGlyphs">axis</text>
<text x="380.4" y="487.6" textLength="167.8" lengthAdjust="spacingAndGlyphs">coordinate</text>
<text x="560.2" y="488.2" font-size="30" textLength="13" lengthAdjust="spacingAndGlyphs">(</text>
<text x="572.6" y="487.6" textLength="63.6" lengthAdjust="spacingAndGlyphs">mm</text>
<text x="638.6" y="488.2" font-size="30" textLength="13" lengthAdjust="spacingAndGlyphs">)</text>
</g>
<!-- y label -->
<g class="thin" transform="translate(32.1,0) rotate(-90)" font-family="'Liberation Sans',sans-serif" font-size="31">
<text x="-332.2" y="0" textLength="84" lengthAdjust="spacingAndGlyphs">filling</text>
<text x="-235.6" y="0" textLength="106" lengthAdjust="spacingAndGlyphs">degree</text>
</g>
<g fill="none" stroke="#000" stroke-linecap="round">
<path d="M10.8,101.0 C9.4,102.4 10.6,104.5 14.5,105.8 C20,107.4 28,108.3 32.5,109.7 C36.5,110.9 38.3,112.7 37.4,114.3 C36.9,115.2 35.8,115.3 35.2,114.7" stroke-width="1.9"/>
<path d="M16.5,106.4 C21,107.5 27,108.2 31,109.3" stroke-width="2.5"/>
<path d="M18.6,102.1 V111.2" stroke-width="1.1"/>
<circle cx="12.3" cy="101.3" r="1.1" stroke-width="1.3" fill="#000"/>
<circle cx="35.3" cy="114.2" r="1.1" stroke-width="1.3" fill="#000"/>
</g>
</svg>
</body></html>
